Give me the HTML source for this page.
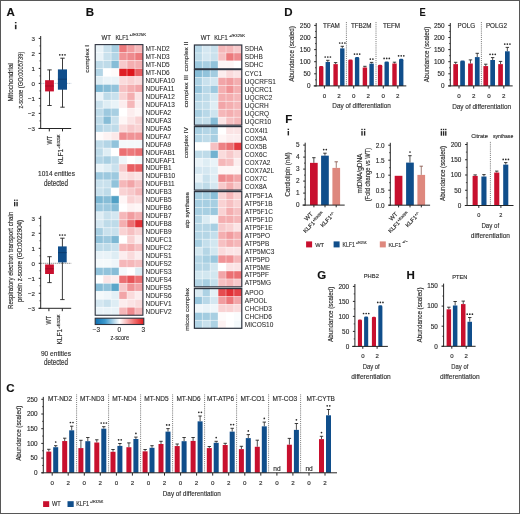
<!DOCTYPE html>
<html><head><meta charset="utf-8"><title>Figure</title><style>html,body{margin:0;padding:0;background:#fff;}body{width:520px;height:514px;overflow:hidden;font-family:"Liberation Sans", sans-serif;}svg{display:block;will-change:transform;} svg text{stroke:#2e2e2e;stroke-width:0.15px;} svg text.rl{stroke-width:0.08px;}</style></head><body>
<svg xmlns="http://www.w3.org/2000/svg" width="520" height="514" viewBox="0 0 520 514" font-family='"Liberation Sans", sans-serif'><rect x="0" y="0" width="520" height="514" fill="#ffffff"/>
<text x="6.6" y="16.4" font-size="11.5" font-weight="bold" fill="#111">A</text>
<rect x="14.9" y="22" width="1.6" height="1.3" fill="#262626"/>
<rect x="14.9" y="24.8" width="1.6" height="4.4" fill="#262626"/>
<line x1="40.7" y1="36" x2="40.7" y2="129" stroke="#262626" stroke-width="1"/>
<line x1="38.7" y1="38.4" x2="40.7" y2="38.4" stroke="#262626" stroke-width="1"/>
<text x="35" y="40.63" font-size="6.2" text-anchor="end" fill="#2e2e2e">3</text>
<line x1="38.7" y1="53.4" x2="40.7" y2="53.4" stroke="#262626" stroke-width="1"/>
<text x="35" y="55.63" font-size="6.2" text-anchor="end" fill="#2e2e2e">2</text>
<line x1="38.7" y1="68.4" x2="40.7" y2="68.4" stroke="#262626" stroke-width="1"/>
<text x="35" y="70.63" font-size="6.2" text-anchor="end" fill="#2e2e2e">1</text>
<line x1="38.7" y1="83.4" x2="40.7" y2="83.4" stroke="#262626" stroke-width="1"/>
<text x="35" y="85.63" font-size="6.2" text-anchor="end" fill="#2e2e2e">0</text>
<line x1="38.7" y1="98.4" x2="40.7" y2="98.4" stroke="#262626" stroke-width="1"/>
<text x="35" y="100.63" font-size="6.2" text-anchor="end" fill="#2e2e2e">−1</text>
<line x1="38.7" y1="113.4" x2="40.7" y2="113.4" stroke="#262626" stroke-width="1"/>
<text x="35" y="115.63" font-size="6.2" text-anchor="end" fill="#2e2e2e">−2</text>
<line x1="38.7" y1="128.4" x2="40.7" y2="128.4" stroke="#262626" stroke-width="1"/>
<text x="35" y="130.63" font-size="6.2" text-anchor="end" fill="#2e2e2e">−3</text>
<line x1="39.5" y1="120.9" x2="40.7" y2="120.9" stroke="#262626" stroke-width="0.8"/>
<line x1="39.5" y1="105.9" x2="40.7" y2="105.9" stroke="#262626" stroke-width="0.8"/>
<line x1="39.5" y1="90.9" x2="40.7" y2="90.9" stroke="#262626" stroke-width="0.8"/>
<line x1="39.5" y1="75.9" x2="40.7" y2="75.9" stroke="#262626" stroke-width="0.8"/>
<line x1="39.5" y1="60.9" x2="40.7" y2="60.9" stroke="#262626" stroke-width="0.8"/>
<line x1="39.5" y1="45.9" x2="40.7" y2="45.9" stroke="#262626" stroke-width="0.8"/>
<line x1="40.7" y1="83.4" x2="71.2" y2="83.4" stroke="#8aa0b8" stroke-width="0.8" stroke-dasharray="1 1"/>
<line x1="49.5" y1="69.9" x2="49.5" y2="105.5" stroke="#262626" stroke-width="0.9"/>
<line x1="47.3" y1="69.9" x2="51.7" y2="69.9" stroke="#262626" stroke-width="0.9"/>
<line x1="47.3" y1="105.5" x2="51.7" y2="105.5" stroke="#262626" stroke-width="0.9"/>
<rect x="45.1" y="80.2" width="8.8" height="11.2" fill="#c8102e"/>
<line x1="45.1" y1="86" x2="53.9" y2="86" stroke="#930a22" stroke-width="0.7"/>
<line x1="62.5" y1="58.2" x2="62.5" y2="107.2" stroke="#262626" stroke-width="0.9"/>
<line x1="60.3" y1="58.2" x2="64.7" y2="58.2" stroke="#262626" stroke-width="0.9"/>
<line x1="60.3" y1="107.2" x2="64.7" y2="107.2" stroke="#262626" stroke-width="0.9"/>
<rect x="57.9" y="69.4" width="9.1" height="20.3" fill="#104e8b"/>
<line x1="57.9" y1="79.2" x2="67" y2="79.2" stroke="#0b3766" stroke-width="0.7"/>
<circle cx="59.8" cy="54.8" r="0.85" fill="#2a2a2a"/>
<circle cx="62.4" cy="54.8" r="0.85" fill="#2a2a2a"/>
<circle cx="65" cy="54.8" r="0.85" fill="#2a2a2a"/>
<line x1="38.6" y1="128.5" x2="71.2" y2="128.5" stroke="#262626" stroke-width="1"/>
<line x1="49.3" y1="128.5" x2="49.3" y2="131.4" stroke="#262626" stroke-width="1"/>
<line x1="62.5" y1="128.5" x2="62.5" y2="131.4" stroke="#262626" stroke-width="1"/>
<text transform="translate(51.6 144.5) rotate(-90)" font-size="6.5" textLength="8.6" lengthAdjust="spacingAndGlyphs" fill="#2e2e2e">WT</text>
<text transform="translate(62.6 164.5) rotate(-90)" font-size="6.5" fill="#2e2e2e">KLF1<tspan font-size="3.77" dy="-2.3">+/E325K</tspan></text>
<text x="56.5" y="176" font-size="7.8" text-anchor="middle" textLength="36.9" lengthAdjust="spacingAndGlyphs" fill="#2e2e2e">1014 entities</text>
<text x="56" y="185.6" font-size="8.2" text-anchor="middle" textLength="24.2" lengthAdjust="spacingAndGlyphs" fill="#2e2e2e">detected</text>
<text transform="translate(12.9 101.5) rotate(-90)" font-size="7" textLength="38.5" lengthAdjust="spacingAndGlyphs" fill="#2e2e2e">Mitochondrial</text>
<text transform="translate(22.7 108.5) rotate(-90)" font-size="7" textLength="56.8" lengthAdjust="spacingAndGlyphs" fill="#2e2e2e">z-score (GO:0005739)</text>
<rect x="14" y="199.6" width="1.35" height="1.3" fill="#262626"/>
<rect x="14" y="201.9" width="1.35" height="4.4" fill="#262626"/>
<rect x="16.4" y="199.6" width="1.35" height="1.3" fill="#262626"/>
<rect x="16.4" y="201.9" width="1.35" height="4.4" fill="#262626"/>
<line x1="40.7" y1="215.9" x2="40.7" y2="308.8" stroke="#262626" stroke-width="1"/>
<line x1="38.7" y1="218.3" x2="40.7" y2="218.3" stroke="#262626" stroke-width="1"/>
<text x="35" y="220.53" font-size="6.2" text-anchor="end" fill="#2e2e2e">3</text>
<line x1="38.7" y1="233.3" x2="40.7" y2="233.3" stroke="#262626" stroke-width="1"/>
<text x="35" y="235.53" font-size="6.2" text-anchor="end" fill="#2e2e2e">2</text>
<line x1="38.7" y1="248.3" x2="40.7" y2="248.3" stroke="#262626" stroke-width="1"/>
<text x="35" y="250.53" font-size="6.2" text-anchor="end" fill="#2e2e2e">1</text>
<line x1="38.7" y1="263.3" x2="40.7" y2="263.3" stroke="#262626" stroke-width="1"/>
<text x="35" y="265.53" font-size="6.2" text-anchor="end" fill="#2e2e2e">0</text>
<line x1="38.7" y1="278.3" x2="40.7" y2="278.3" stroke="#262626" stroke-width="1"/>
<text x="35" y="280.53" font-size="6.2" text-anchor="end" fill="#2e2e2e">−1</text>
<line x1="38.7" y1="293.3" x2="40.7" y2="293.3" stroke="#262626" stroke-width="1"/>
<text x="35" y="295.53" font-size="6.2" text-anchor="end" fill="#2e2e2e">−2</text>
<line x1="38.7" y1="308.3" x2="40.7" y2="308.3" stroke="#262626" stroke-width="1"/>
<text x="35" y="310.53" font-size="6.2" text-anchor="end" fill="#2e2e2e">−3</text>
<line x1="39.5" y1="300.8" x2="40.7" y2="300.8" stroke="#262626" stroke-width="0.8"/>
<line x1="39.5" y1="285.8" x2="40.7" y2="285.8" stroke="#262626" stroke-width="0.8"/>
<line x1="39.5" y1="270.8" x2="40.7" y2="270.8" stroke="#262626" stroke-width="0.8"/>
<line x1="39.5" y1="255.8" x2="40.7" y2="255.8" stroke="#262626" stroke-width="0.8"/>
<line x1="39.5" y1="240.8" x2="40.7" y2="240.8" stroke="#262626" stroke-width="0.8"/>
<line x1="39.5" y1="225.8" x2="40.7" y2="225.8" stroke="#262626" stroke-width="0.8"/>
<line x1="40.7" y1="263.3" x2="71.2" y2="263.3" stroke="#444" stroke-width="0.8" stroke-dasharray="1 1"/>
<line x1="49.5" y1="256.7" x2="49.5" y2="282.6" stroke="#262626" stroke-width="0.9"/>
<line x1="47.3" y1="256.7" x2="51.7" y2="256.7" stroke="#262626" stroke-width="0.9"/>
<line x1="47.3" y1="282.6" x2="51.7" y2="282.6" stroke="#262626" stroke-width="0.9"/>
<rect x="45.1" y="264.5" width="8.8" height="9.5" fill="#c8102e"/>
<line x1="45.1" y1="268.8" x2="53.9" y2="268.8" stroke="#930a22" stroke-width="0.7"/>
<line x1="62.4" y1="238.2" x2="62.4" y2="299.6" stroke="#262626" stroke-width="0.9"/>
<line x1="60.2" y1="238.2" x2="64.6" y2="238.2" stroke="#262626" stroke-width="0.9"/>
<line x1="60.2" y1="299.6" x2="64.6" y2="299.6" stroke="#262626" stroke-width="0.9"/>
<rect x="58" y="246.4" width="8.7" height="16" fill="#104e8b"/>
<line x1="58" y1="252.6" x2="66.7" y2="252.6" stroke="#0b3766" stroke-width="0.7"/>
<circle cx="59.8" cy="235" r="0.85" fill="#2a2a2a"/>
<circle cx="62.4" cy="235" r="0.85" fill="#2a2a2a"/>
<circle cx="65" cy="235" r="0.85" fill="#2a2a2a"/>
<line x1="38.6" y1="308.3" x2="71.2" y2="308.3" stroke="#262626" stroke-width="1"/>
<line x1="48.9" y1="308.3" x2="48.9" y2="311.2" stroke="#262626" stroke-width="1"/>
<line x1="62.3" y1="308.3" x2="62.3" y2="311.2" stroke="#262626" stroke-width="1"/>
<text transform="translate(51.1 324.5) rotate(-90)" font-size="6.5" textLength="8.6" lengthAdjust="spacingAndGlyphs" fill="#2e2e2e">WT</text>
<text transform="translate(62.3 344.5) rotate(-90)" font-size="6.5" fill="#2e2e2e">KLF1<tspan font-size="3.77" dy="-2.3">+/E325K</tspan></text>
<text x="56" y="356.4" font-size="7.8" text-anchor="middle" textLength="30.1" lengthAdjust="spacingAndGlyphs" fill="#2e2e2e">90 entities</text>
<text x="56" y="365.3" font-size="8.2" text-anchor="middle" textLength="24.2" lengthAdjust="spacingAndGlyphs" fill="#2e2e2e">detected</text>
<text transform="translate(12.5 308.9) rotate(-90)" font-size="6.6" textLength="97.2" lengthAdjust="spacingAndGlyphs" fill="#2e2e2e">Respiratory electron transport chain</text>
<text transform="translate(22.4 301.9) rotate(-90)" font-size="6.6" textLength="82" lengthAdjust="spacingAndGlyphs" fill="#2e2e2e">protein z-score (GO:0022904)</text>
<text x="85.7" y="16.4" font-size="11.5" font-weight="bold" fill="#111">B</text>
<text x="101.6" y="40.2" font-size="6.6" textLength="9.4" lengthAdjust="spacingAndGlyphs" fill="#2e2e2e">WT</text>
<text x="115.4" y="40.2" font-size="6.6" fill="#2e2e2e" textLength="13.3" lengthAdjust="spacingAndGlyphs">KLF1</text>
<text x="129.5" y="36.4" font-size="4.1" fill="#2e2e2e" textLength="16.6" lengthAdjust="spacingAndGlyphs">+/E325K</text>
<text transform="translate(89 72.7) rotate(-90)" font-size="6.2" textLength="27.7" lengthAdjust="spacingAndGlyphs" fill="#2e2e2e">complex I</text>
<rect x="95.2" y="44.6" width="7.95" height="7.96" fill="rgb(233,243,248)"/>
<rect x="103.15" y="44.6" width="7.95" height="7.96" fill="rgb(201,225,237)"/>
<rect x="111.1" y="44.6" width="7.95" height="7.96" fill="rgb(168,207,226)"/>
<rect x="119.05" y="44.6" width="7.95" height="7.96" fill="rgb(236,121,124)"/>
<rect x="127" y="44.6" width="7.95" height="7.96" fill="rgb(241,156,159)"/>
<rect x="134.95" y="44.6" width="7.95" height="7.96" fill="rgb(245,183,185)"/>
<rect x="95.2" y="52.56" width="7.95" height="7.96" fill="rgb(233,243,248)"/>
<rect x="103.15" y="52.56" width="7.95" height="7.96" fill="rgb(201,225,237)"/>
<rect x="111.1" y="52.56" width="7.95" height="7.96" fill="rgb(179,213,230)"/>
<rect x="119.05" y="52.56" width="7.95" height="7.96" fill="rgb(240,147,150)"/>
<rect x="127" y="52.56" width="7.95" height="7.96" fill="rgb(238,138,142)"/>
<rect x="134.95" y="52.56" width="7.95" height="7.96" fill="rgb(236,121,124)"/>
<rect x="95.2" y="60.52" width="7.95" height="7.96" fill="rgb(190,219,233)"/>
<rect x="103.15" y="60.52" width="7.95" height="7.96" fill="rgb(190,219,233)"/>
<rect x="111.1" y="60.52" width="7.95" height="7.96" fill="rgb(135,189,215)"/>
<rect x="119.05" y="60.52" width="7.95" height="7.96" fill="rgb(247,201,203)"/>
<rect x="127" y="60.52" width="7.95" height="7.96" fill="rgb(244,174,176)"/>
<rect x="134.95" y="60.52" width="7.95" height="7.96" fill="rgb(244,174,176)"/>
<rect x="95.2" y="68.48" width="7.95" height="7.96" fill="rgb(179,213,230)"/>
<rect x="103.15" y="68.48" width="7.95" height="7.96" fill="rgb(255,255,255)"/>
<rect x="111.1" y="68.48" width="7.95" height="7.96" fill="rgb(254,251,251)"/>
<rect x="119.05" y="68.48" width="7.95" height="7.96" fill="rgb(223,31,37)"/>
<rect x="127" y="68.48" width="7.95" height="7.96" fill="rgb(222,22,28)"/>
<rect x="134.95" y="68.48" width="7.95" height="7.96" fill="rgb(232,94,98)"/>
<rect x="95.2" y="76.44" width="7.95" height="7.96" fill="rgb(222,237,244)"/>
<rect x="103.15" y="76.44" width="7.95" height="7.96" fill="rgb(233,243,248)"/>
<rect x="111.1" y="76.44" width="7.95" height="7.96" fill="rgb(233,243,248)"/>
<rect x="119.05" y="76.44" width="7.95" height="7.96" fill="rgb(250,219,220)"/>
<rect x="127" y="76.44" width="7.95" height="7.96" fill="rgb(249,210,211)"/>
<rect x="134.95" y="76.44" width="7.95" height="7.96" fill="rgb(250,219,220)"/>
<rect x="95.2" y="84.4" width="7.95" height="7.96" fill="rgb(125,184,212)"/>
<rect x="103.15" y="84.4" width="7.95" height="7.96" fill="rgb(135,189,215)"/>
<rect x="111.1" y="84.4" width="7.95" height="7.96" fill="rgb(146,195,219)"/>
<rect x="119.05" y="84.4" width="7.95" height="7.96" fill="rgb(246,192,194)"/>
<rect x="127" y="84.4" width="7.95" height="7.96" fill="rgb(244,174,176)"/>
<rect x="134.95" y="84.4" width="7.95" height="7.96" fill="rgb(242,165,168)"/>
<rect x="95.2" y="92.36" width="7.95" height="7.96" fill="rgb(233,243,248)"/>
<rect x="103.15" y="92.36" width="7.95" height="7.96" fill="rgb(190,219,233)"/>
<rect x="111.1" y="92.36" width="7.95" height="7.96" fill="rgb(201,225,237)"/>
<rect x="119.05" y="92.36" width="7.95" height="7.96" fill="rgb(249,210,211)"/>
<rect x="127" y="92.36" width="7.95" height="7.96" fill="rgb(244,174,176)"/>
<rect x="134.95" y="92.36" width="7.95" height="7.96" fill="rgb(251,228,229)"/>
<rect x="95.2" y="100.32" width="7.95" height="7.96" fill="rgb(201,225,237)"/>
<rect x="103.15" y="100.32" width="7.95" height="7.96" fill="rgb(222,237,244)"/>
<rect x="111.1" y="100.32" width="7.95" height="7.96" fill="rgb(233,243,248)"/>
<rect x="119.05" y="100.32" width="7.95" height="7.96" fill="rgb(252,237,238)"/>
<rect x="127" y="100.32" width="7.95" height="7.96" fill="rgb(245,183,185)"/>
<rect x="134.95" y="100.32" width="7.95" height="7.96" fill="rgb(252,237,238)"/>
<rect x="95.2" y="108.28" width="7.95" height="7.96" fill="rgb(190,219,233)"/>
<rect x="103.15" y="108.28" width="7.95" height="7.96" fill="rgb(157,201,223)"/>
<rect x="111.1" y="108.28" width="7.95" height="7.96" fill="rgb(168,207,226)"/>
<rect x="119.05" y="108.28" width="7.95" height="7.96" fill="rgb(255,255,255)"/>
<rect x="127" y="108.28" width="7.95" height="7.96" fill="rgb(252,237,238)"/>
<rect x="134.95" y="108.28" width="7.95" height="7.96" fill="rgb(254,246,246)"/>
<rect x="95.2" y="116.24" width="7.95" height="7.96" fill="rgb(190,219,233)"/>
<rect x="103.15" y="116.24" width="7.95" height="7.96" fill="rgb(135,189,215)"/>
<rect x="111.1" y="116.24" width="7.95" height="7.96" fill="rgb(201,225,237)"/>
<rect x="119.05" y="116.24" width="7.95" height="7.96" fill="rgb(254,246,246)"/>
<rect x="127" y="116.24" width="7.95" height="7.96" fill="rgb(251,228,229)"/>
<rect x="134.95" y="116.24" width="7.95" height="7.96" fill="rgb(249,210,211)"/>
<rect x="95.2" y="124.2" width="7.95" height="7.96" fill="rgb(179,213,230)"/>
<rect x="103.15" y="124.2" width="7.95" height="7.96" fill="rgb(190,219,233)"/>
<rect x="111.1" y="124.2" width="7.95" height="7.96" fill="rgb(190,219,233)"/>
<rect x="119.05" y="124.2" width="7.95" height="7.96" fill="rgb(250,219,220)"/>
<rect x="127" y="124.2" width="7.95" height="7.96" fill="rgb(247,201,203)"/>
<rect x="134.95" y="124.2" width="7.95" height="7.96" fill="rgb(249,210,211)"/>
<rect x="95.2" y="132.16" width="7.95" height="7.96" fill="rgb(254,251,251)"/>
<rect x="103.15" y="132.16" width="7.95" height="7.96" fill="rgb(253,242,242)"/>
<rect x="111.1" y="132.16" width="7.95" height="7.96" fill="rgb(252,233,233)"/>
<rect x="119.05" y="132.16" width="7.95" height="7.96" fill="rgb(238,138,142)"/>
<rect x="127" y="132.16" width="7.95" height="7.96" fill="rgb(240,147,150)"/>
<rect x="134.95" y="132.16" width="7.95" height="7.96" fill="rgb(240,147,150)"/>
<rect x="95.2" y="140.12" width="7.95" height="7.96" fill="rgb(190,219,233)"/>
<rect x="103.15" y="140.12" width="7.95" height="7.96" fill="rgb(179,213,230)"/>
<rect x="111.1" y="140.12" width="7.95" height="7.96" fill="rgb(146,195,219)"/>
<rect x="119.05" y="140.12" width="7.95" height="7.96" fill="rgb(244,249,251)"/>
<rect x="127" y="140.12" width="7.95" height="7.96" fill="rgb(244,249,251)"/>
<rect x="134.95" y="140.12" width="7.95" height="7.96" fill="rgb(244,249,251)"/>
<rect x="95.2" y="148.08" width="7.95" height="7.96" fill="rgb(190,219,233)"/>
<rect x="103.15" y="148.08" width="7.95" height="7.96" fill="rgb(222,237,244)"/>
<rect x="111.1" y="148.08" width="7.95" height="7.96" fill="rgb(255,255,255)"/>
<rect x="119.05" y="148.08" width="7.95" height="7.96" fill="rgb(235,112,115)"/>
<rect x="127" y="148.08" width="7.95" height="7.96" fill="rgb(236,121,124)"/>
<rect x="134.95" y="148.08" width="7.95" height="7.96" fill="rgb(235,112,115)"/>
<rect x="95.2" y="156.04" width="7.95" height="7.96" fill="rgb(179,213,230)"/>
<rect x="103.15" y="156.04" width="7.95" height="7.96" fill="rgb(168,207,226)"/>
<rect x="111.1" y="156.04" width="7.95" height="7.96" fill="rgb(190,219,233)"/>
<rect x="119.05" y="156.04" width="7.95" height="7.96" fill="rgb(239,246,250)"/>
<rect x="127" y="156.04" width="7.95" height="7.96" fill="rgb(255,255,255)"/>
<rect x="134.95" y="156.04" width="7.95" height="7.96" fill="rgb(244,249,251)"/>
<rect x="95.2" y="164" width="7.95" height="7.96" fill="rgb(233,243,248)"/>
<rect x="103.15" y="164" width="7.95" height="7.96" fill="rgb(222,237,244)"/>
<rect x="111.1" y="164" width="7.95" height="7.96" fill="rgb(201,225,237)"/>
<rect x="119.05" y="164" width="7.95" height="7.96" fill="rgb(247,201,203)"/>
<rect x="127" y="164" width="7.95" height="7.96" fill="rgb(232,94,98)"/>
<rect x="134.95" y="164" width="7.95" height="7.96" fill="rgb(232,94,98)"/>
<rect x="95.2" y="171.96" width="7.95" height="7.96" fill="rgb(157,201,223)"/>
<rect x="103.15" y="171.96" width="7.95" height="7.96" fill="rgb(157,201,223)"/>
<rect x="111.1" y="171.96" width="7.95" height="7.96" fill="rgb(157,201,223)"/>
<rect x="119.05" y="171.96" width="7.95" height="7.96" fill="rgb(251,228,229)"/>
<rect x="127" y="171.96" width="7.95" height="7.96" fill="rgb(250,219,220)"/>
<rect x="134.95" y="171.96" width="7.95" height="7.96" fill="rgb(251,228,229)"/>
<rect x="95.2" y="179.92" width="7.95" height="7.96" fill="rgb(201,225,237)"/>
<rect x="103.15" y="179.92" width="7.95" height="7.96" fill="rgb(201,225,237)"/>
<rect x="111.1" y="179.92" width="7.95" height="7.96" fill="rgb(146,195,219)"/>
<rect x="119.05" y="179.92" width="7.95" height="7.96" fill="rgb(245,183,185)"/>
<rect x="127" y="179.92" width="7.95" height="7.96" fill="rgb(242,165,168)"/>
<rect x="134.95" y="179.92" width="7.95" height="7.96" fill="rgb(246,192,194)"/>
<rect x="95.2" y="187.88" width="7.95" height="7.96" fill="rgb(201,225,237)"/>
<rect x="103.15" y="187.88" width="7.95" height="7.96" fill="rgb(190,219,233)"/>
<rect x="111.1" y="187.88" width="7.95" height="7.96" fill="rgb(255,255,255)"/>
<rect x="119.05" y="187.88" width="7.95" height="7.96" fill="rgb(249,210,211)"/>
<rect x="127" y="187.88" width="7.95" height="7.96" fill="rgb(247,201,203)"/>
<rect x="134.95" y="187.88" width="7.95" height="7.96" fill="rgb(245,183,185)"/>
<rect x="95.2" y="195.84" width="7.95" height="7.96" fill="rgb(125,184,212)"/>
<rect x="103.15" y="195.84" width="7.95" height="7.96" fill="rgb(135,189,215)"/>
<rect x="111.1" y="195.84" width="7.95" height="7.96" fill="rgb(81,160,197)"/>
<rect x="119.05" y="195.84" width="7.95" height="7.96" fill="rgb(254,246,246)"/>
<rect x="127" y="195.84" width="7.95" height="7.96" fill="rgb(249,210,211)"/>
<rect x="134.95" y="195.84" width="7.95" height="7.96" fill="rgb(250,219,220)"/>
<rect x="95.2" y="203.8" width="7.95" height="7.96" fill="rgb(157,201,223)"/>
<rect x="103.15" y="203.8" width="7.95" height="7.96" fill="rgb(157,201,223)"/>
<rect x="111.1" y="203.8" width="7.95" height="7.96" fill="rgb(135,189,215)"/>
<rect x="119.05" y="203.8" width="7.95" height="7.96" fill="rgb(255,255,255)"/>
<rect x="127" y="203.8" width="7.95" height="7.96" fill="rgb(253,242,242)"/>
<rect x="134.95" y="203.8" width="7.95" height="7.96" fill="rgb(254,246,246)"/>
<rect x="95.2" y="211.76" width="7.95" height="7.96" fill="rgb(222,237,244)"/>
<rect x="103.15" y="211.76" width="7.95" height="7.96" fill="rgb(201,225,237)"/>
<rect x="111.1" y="211.76" width="7.95" height="7.96" fill="rgb(212,231,241)"/>
<rect x="119.05" y="211.76" width="7.95" height="7.96" fill="rgb(245,183,185)"/>
<rect x="127" y="211.76" width="7.95" height="7.96" fill="rgb(241,156,159)"/>
<rect x="134.95" y="211.76" width="7.95" height="7.96" fill="rgb(244,174,176)"/>
<rect x="95.2" y="219.72" width="7.95" height="7.96" fill="rgb(212,231,241)"/>
<rect x="103.15" y="219.72" width="7.95" height="7.96" fill="rgb(190,219,233)"/>
<rect x="111.1" y="219.72" width="7.95" height="7.96" fill="rgb(190,219,233)"/>
<rect x="119.05" y="219.72" width="7.95" height="7.96" fill="rgb(244,174,176)"/>
<rect x="127" y="219.72" width="7.95" height="7.96" fill="rgb(235,112,115)"/>
<rect x="134.95" y="219.72" width="7.95" height="7.96" fill="rgb(226,49,54)"/>
<rect x="95.2" y="227.68" width="7.95" height="7.96" fill="rgb(168,207,226)"/>
<rect x="103.15" y="227.68" width="7.95" height="7.96" fill="rgb(201,225,237)"/>
<rect x="111.1" y="227.68" width="7.95" height="7.96" fill="rgb(201,225,237)"/>
<rect x="119.05" y="227.68" width="7.95" height="7.96" fill="rgb(249,210,211)"/>
<rect x="127" y="227.68" width="7.95" height="7.96" fill="rgb(246,192,194)"/>
<rect x="134.95" y="227.68" width="7.95" height="7.96" fill="rgb(249,210,211)"/>
<rect x="95.2" y="235.64" width="7.95" height="7.96" fill="rgb(146,195,219)"/>
<rect x="103.15" y="235.64" width="7.95" height="7.96" fill="rgb(157,201,223)"/>
<rect x="111.1" y="235.64" width="7.95" height="7.96" fill="rgb(125,184,212)"/>
<rect x="119.05" y="235.64" width="7.95" height="7.96" fill="rgb(255,255,255)"/>
<rect x="127" y="235.64" width="7.95" height="7.96" fill="rgb(249,210,211)"/>
<rect x="134.95" y="235.64" width="7.95" height="7.96" fill="rgb(252,237,238)"/>
<rect x="95.2" y="243.6" width="7.95" height="7.96" fill="rgb(190,219,233)"/>
<rect x="103.15" y="243.6" width="7.95" height="7.96" fill="rgb(190,219,233)"/>
<rect x="111.1" y="243.6" width="7.95" height="7.96" fill="rgb(201,225,237)"/>
<rect x="119.05" y="243.6" width="7.95" height="7.96" fill="rgb(245,183,185)"/>
<rect x="127" y="243.6" width="7.95" height="7.96" fill="rgb(244,174,176)"/>
<rect x="134.95" y="243.6" width="7.95" height="7.96" fill="rgb(246,192,194)"/>
<rect x="95.2" y="251.56" width="7.95" height="7.96" fill="rgb(233,243,248)"/>
<rect x="103.15" y="251.56" width="7.95" height="7.96" fill="rgb(233,243,248)"/>
<rect x="111.1" y="251.56" width="7.95" height="7.96" fill="rgb(222,237,244)"/>
<rect x="119.05" y="251.56" width="7.95" height="7.96" fill="rgb(252,237,238)"/>
<rect x="127" y="251.56" width="7.95" height="7.96" fill="rgb(250,219,220)"/>
<rect x="134.95" y="251.56" width="7.95" height="7.96" fill="rgb(252,237,238)"/>
<rect x="95.2" y="259.52" width="7.95" height="7.96" fill="rgb(244,249,251)"/>
<rect x="103.15" y="259.52" width="7.95" height="7.96" fill="rgb(244,249,251)"/>
<rect x="111.1" y="259.52" width="7.95" height="7.96" fill="rgb(239,246,250)"/>
<rect x="119.05" y="259.52" width="7.95" height="7.96" fill="rgb(245,183,185)"/>
<rect x="127" y="259.52" width="7.95" height="7.96" fill="rgb(245,183,185)"/>
<rect x="134.95" y="259.52" width="7.95" height="7.96" fill="rgb(246,192,194)"/>
<rect x="95.2" y="267.48" width="7.95" height="7.96" fill="rgb(146,195,219)"/>
<rect x="103.15" y="267.48" width="7.95" height="7.96" fill="rgb(146,195,219)"/>
<rect x="111.1" y="267.48" width="7.95" height="7.96" fill="rgb(135,189,215)"/>
<rect x="119.05" y="267.48" width="7.95" height="7.96" fill="rgb(244,249,251)"/>
<rect x="127" y="267.48" width="7.95" height="7.96" fill="rgb(255,255,255)"/>
<rect x="134.95" y="267.48" width="7.95" height="7.96" fill="rgb(222,237,244)"/>
<rect x="95.2" y="275.44" width="7.95" height="7.96" fill="rgb(255,255,255)"/>
<rect x="103.15" y="275.44" width="7.95" height="7.96" fill="rgb(251,228,229)"/>
<rect x="111.1" y="275.44" width="7.95" height="7.96" fill="rgb(252,237,238)"/>
<rect x="119.05" y="275.44" width="7.95" height="7.96" fill="rgb(235,112,115)"/>
<rect x="127" y="275.44" width="7.95" height="7.96" fill="rgb(231,85,89)"/>
<rect x="134.95" y="275.44" width="7.95" height="7.96" fill="rgb(235,112,115)"/>
<rect x="95.2" y="283.4" width="7.95" height="7.96" fill="rgb(135,189,215)"/>
<rect x="103.15" y="283.4" width="7.95" height="7.96" fill="rgb(146,195,219)"/>
<rect x="111.1" y="283.4" width="7.95" height="7.96" fill="rgb(92,166,201)"/>
<rect x="119.05" y="283.4" width="7.95" height="7.96" fill="rgb(247,201,203)"/>
<rect x="127" y="283.4" width="7.95" height="7.96" fill="rgb(240,147,150)"/>
<rect x="134.95" y="283.4" width="7.95" height="7.96" fill="rgb(242,165,168)"/>
<rect x="95.2" y="291.36" width="7.95" height="7.96" fill="rgb(244,249,251)"/>
<rect x="103.15" y="291.36" width="7.95" height="7.96" fill="rgb(239,246,250)"/>
<rect x="111.1" y="291.36" width="7.95" height="7.96" fill="rgb(228,240,246)"/>
<rect x="119.05" y="291.36" width="7.95" height="7.96" fill="rgb(242,165,168)"/>
<rect x="127" y="291.36" width="7.95" height="7.96" fill="rgb(250,219,220)"/>
<rect x="134.95" y="291.36" width="7.95" height="7.96" fill="rgb(252,237,238)"/>
<rect x="95.2" y="299.32" width="7.95" height="7.96" fill="rgb(212,231,241)"/>
<rect x="103.15" y="299.32" width="7.95" height="7.96" fill="rgb(201,225,237)"/>
<rect x="111.1" y="299.32" width="7.95" height="7.96" fill="rgb(222,237,244)"/>
<rect x="119.05" y="299.32" width="7.95" height="7.96" fill="rgb(252,237,238)"/>
<rect x="127" y="299.32" width="7.95" height="7.96" fill="rgb(251,228,229)"/>
<rect x="134.95" y="299.32" width="7.95" height="7.96" fill="rgb(250,219,220)"/>
<rect x="95.2" y="307.28" width="7.95" height="7.96" fill="rgb(233,243,248)"/>
<rect x="103.15" y="307.28" width="7.95" height="7.96" fill="rgb(233,243,248)"/>
<rect x="111.1" y="307.28" width="7.95" height="7.96" fill="rgb(233,243,248)"/>
<rect x="119.05" y="307.28" width="7.95" height="7.96" fill="rgb(245,183,185)"/>
<rect x="127" y="307.28" width="7.95" height="7.96" fill="rgb(238,138,142)"/>
<rect x="134.95" y="307.28" width="7.95" height="7.96" fill="rgb(245,183,185)"/>
<path d="M103.15 44.6V315.24M111.1 44.6V315.24M119.05 44.6V315.24M127 44.6V315.24M134.95 44.6V315.24M95.2 52.56H142.9M95.2 60.52H142.9M95.2 68.48H142.9M95.2 76.44H142.9M95.2 84.4H142.9M95.2 92.36H142.9M95.2 100.32H142.9M95.2 108.28H142.9M95.2 116.24H142.9M95.2 124.2H142.9M95.2 132.16H142.9M95.2 140.12H142.9M95.2 148.08H142.9M95.2 156.04H142.9M95.2 164H142.9M95.2 171.96H142.9M95.2 179.92H142.9M95.2 187.88H142.9M95.2 195.84H142.9M95.2 203.8H142.9M95.2 211.76H142.9M95.2 219.72H142.9M95.2 227.68H142.9M95.2 235.64H142.9M95.2 243.6H142.9M95.2 251.56H142.9M95.2 259.52H142.9M95.2 267.48H142.9M95.2 275.44H142.9M95.2 283.4H142.9M95.2 291.36H142.9M95.2 299.32H142.9M95.2 307.28H142.9" stroke="#ffffff" stroke-opacity="0.55" stroke-width="0.7" fill="none"/>
<rect x="95.2" y="44.6" width="47.7" height="270.64" fill="none" stroke="#2e3440" stroke-width="1.1"/>
<g transform="translate(145.5 0) scale(0.93 1)">
<text x="0" y="51.08" font-size="7" fill="#2e2e2e" class="rl">MT-ND2</text>
<text x="0" y="59.04" font-size="7" fill="#2e2e2e" class="rl">MT-ND3</text>
<text x="0" y="67" font-size="7" fill="#2e2e2e" class="rl">MT-ND5</text>
<text x="0" y="74.96" font-size="7" fill="#2e2e2e" class="rl">MT-ND6</text>
<text x="0" y="82.92" font-size="7" fill="#2e2e2e" class="rl">NDUFA10</text>
<text x="0" y="90.88" font-size="7" fill="#2e2e2e" class="rl">NDUFA11</text>
<text x="0" y="98.84" font-size="7" fill="#2e2e2e" class="rl">NDUFA12</text>
<text x="0" y="106.8" font-size="7" fill="#2e2e2e" class="rl">NDUFA13</text>
<text x="0" y="114.76" font-size="7" fill="#2e2e2e" class="rl">NDUFA2</text>
<text x="0" y="122.72" font-size="7" fill="#2e2e2e" class="rl">NDUFA3</text>
<text x="0" y="130.68" font-size="7" fill="#2e2e2e" class="rl">NDUFA5</text>
<text x="0" y="138.64" font-size="7" fill="#2e2e2e" class="rl">NDUFA7</text>
<text x="0" y="146.6" font-size="7" fill="#2e2e2e" class="rl">NDUFA9</text>
<text x="0" y="154.56" font-size="7" fill="#2e2e2e" class="rl">NDUFAB1</text>
<text x="0" y="162.52" font-size="7" fill="#2e2e2e" class="rl">NDUFAF1</text>
<text x="0" y="170.48" font-size="7" fill="#2e2e2e" class="rl">NDUFB1</text>
<text x="0" y="178.44" font-size="7" fill="#2e2e2e" class="rl">NDUFB10</text>
<text x="0" y="186.4" font-size="7" fill="#2e2e2e" class="rl">NDUFB11</text>
<text x="0" y="194.36" font-size="7" fill="#2e2e2e" class="rl">NDUFB3</text>
<text x="0" y="202.32" font-size="7" fill="#2e2e2e" class="rl">NDUFB5</text>
<text x="0" y="210.28" font-size="7" fill="#2e2e2e" class="rl">NDUFB6</text>
<text x="0" y="218.24" font-size="7" fill="#2e2e2e" class="rl">NDUFB7</text>
<text x="0" y="226.2" font-size="7" fill="#2e2e2e" class="rl">NDUFB8</text>
<text x="0" y="234.16" font-size="7" fill="#2e2e2e" class="rl">NDUFB9</text>
<text x="0" y="242.12" font-size="7" fill="#2e2e2e" class="rl">NDUFC1</text>
<text x="0" y="250.08" font-size="7" fill="#2e2e2e" class="rl">NDUFC2</text>
<text x="0" y="258.04" font-size="7" fill="#2e2e2e" class="rl">NDUFS1</text>
<text x="0" y="266" font-size="7" fill="#2e2e2e" class="rl">NDUFS2</text>
<text x="0" y="273.96" font-size="7" fill="#2e2e2e" class="rl">NDUFS3</text>
<text x="0" y="281.92" font-size="7" fill="#2e2e2e" class="rl">NDUFS4</text>
<text x="0" y="289.88" font-size="7" fill="#2e2e2e" class="rl">NDUFS5</text>
<text x="0" y="297.84" font-size="7" fill="#2e2e2e" class="rl">NDUFS6</text>
<text x="0" y="305.8" font-size="7" fill="#2e2e2e" class="rl">NDUFV1</text>
<text x="0" y="313.76" font-size="7" fill="#2e2e2e" class="rl">NDUFV2</text>
</g>
<defs><linearGradient id="cb" x1="0" x2="1" y1="0" y2="0"><stop offset="0" stop-color="#0f6fb2"/><stop offset="0.2" stop-color="#3b98cc"/><stop offset="0.5" stop-color="#ffffff"/><stop offset="0.8" stop-color="#f07070"/><stop offset="1" stop-color="#e01a1c"/></linearGradient></defs>
<rect x="95.2" y="318.2" width="48.6" height="6.3" fill="url(#cb)" stroke="#2e3440" stroke-width="1.1"/>
<text x="96.4" y="331.9" font-size="6.4" text-anchor="middle" fill="#2e2e2e">−3</text>
<text x="119.4" y="331.9" font-size="6.4" text-anchor="middle" fill="#2e2e2e">0</text>
<text x="143.3" y="331.9" font-size="6.4" text-anchor="middle" fill="#2e2e2e">3</text>
<text x="119.8" y="340" font-size="6.6" text-anchor="middle" textLength="18.5" lengthAdjust="spacingAndGlyphs" fill="#2e2e2e">z-score</text>
<text x="200.8" y="40.4" font-size="6.6" textLength="9.4" lengthAdjust="spacingAndGlyphs" fill="#2e2e2e">WT</text>
<text x="214.2" y="40.4" font-size="6.6" fill="#2e2e2e" textLength="13.5" lengthAdjust="spacingAndGlyphs">KLF1</text>
<text x="228.9" y="36.5" font-size="4.1" fill="#2e2e2e" textLength="16.2" lengthAdjust="spacingAndGlyphs">+/E325K</text>
<rect x="194.4" y="45" width="7.9" height="7.94" fill="rgb(184,216,232)"/>
<rect x="202.3" y="45" width="7.9" height="7.94" fill="rgb(212,231,241)"/>
<rect x="210.2" y="45" width="7.9" height="7.94" fill="rgb(201,225,237)"/>
<rect x="218.1" y="45" width="7.9" height="7.94" fill="rgb(245,183,185)"/>
<rect x="226" y="45" width="7.9" height="7.94" fill="rgb(245,183,185)"/>
<rect x="233.9" y="45" width="7.9" height="7.94" fill="rgb(247,201,203)"/>
<rect x="194.4" y="52.94" width="7.9" height="7.94" fill="rgb(190,219,233)"/>
<rect x="202.3" y="52.94" width="7.9" height="7.94" fill="rgb(212,231,241)"/>
<rect x="210.2" y="52.94" width="7.9" height="7.94" fill="rgb(201,225,237)"/>
<rect x="218.1" y="52.94" width="7.9" height="7.94" fill="rgb(246,192,194)"/>
<rect x="226" y="52.94" width="7.9" height="7.94" fill="rgb(236,121,124)"/>
<rect x="233.9" y="52.94" width="7.9" height="7.94" fill="rgb(238,138,142)"/>
<rect x="194.4" y="60.88" width="7.9" height="7.94" fill="rgb(157,201,223)"/>
<rect x="202.3" y="60.88" width="7.9" height="7.94" fill="rgb(168,207,226)"/>
<rect x="210.2" y="60.88" width="7.9" height="7.94" fill="rgb(146,195,219)"/>
<rect x="218.1" y="60.88" width="7.9" height="7.94" fill="rgb(254,246,246)"/>
<rect x="226" y="60.88" width="7.9" height="7.94" fill="rgb(254,246,246)"/>
<rect x="233.9" y="60.88" width="7.9" height="7.94" fill="rgb(255,255,255)"/>
<path d="M202.3 45V68.82M210.2 45V68.82M218.1 45V68.82M226 45V68.82M233.9 45V68.82M194.4 52.94H241.8M194.4 60.88H241.8" stroke="#ffffff" stroke-opacity="0.55" stroke-width="0.7" fill="none"/>
<rect x="194.4" y="45" width="47.4" height="23.82" fill="none" stroke="#2e3440" stroke-width="1.2"/>
<g transform="translate(244.8 0) scale(0.93 1)">
<text x="0" y="51.47" font-size="7" fill="#2e2e2e" class="rl">SDHA</text>
<text x="0" y="59.41" font-size="7" fill="#2e2e2e" class="rl">SDHB</text>
<text x="0" y="67.35" font-size="7" fill="#2e2e2e" class="rl">SDHC</text>
</g>
<text transform="translate(188.4 71.5) rotate(-90)" font-size="6.2" textLength="29.75" lengthAdjust="spacingAndGlyphs" fill="#2e2e2e">complex II</text>
<rect x="194.4" y="69.6" width="7.9" height="7.94" fill="rgb(135,189,215)"/>
<rect x="202.3" y="69.6" width="7.9" height="7.94" fill="rgb(146,195,219)"/>
<rect x="210.2" y="69.6" width="7.9" height="7.94" fill="rgb(163,204,224)"/>
<rect x="218.1" y="69.6" width="7.9" height="7.94" fill="rgb(252,237,238)"/>
<rect x="226" y="69.6" width="7.9" height="7.94" fill="rgb(250,219,220)"/>
<rect x="233.9" y="69.6" width="7.9" height="7.94" fill="rgb(251,228,229)"/>
<rect x="194.4" y="77.54" width="7.9" height="7.94" fill="rgb(173,210,228)"/>
<rect x="202.3" y="77.54" width="7.9" height="7.94" fill="rgb(201,225,237)"/>
<rect x="210.2" y="77.54" width="7.9" height="7.94" fill="rgb(212,231,241)"/>
<rect x="218.1" y="77.54" width="7.9" height="7.94" fill="rgb(242,165,168)"/>
<rect x="226" y="77.54" width="7.9" height="7.94" fill="rgb(241,156,159)"/>
<rect x="233.9" y="77.54" width="7.9" height="7.94" fill="rgb(244,174,176)"/>
<rect x="194.4" y="85.48" width="7.9" height="7.94" fill="rgb(152,198,221)"/>
<rect x="202.3" y="85.48" width="7.9" height="7.94" fill="rgb(184,216,232)"/>
<rect x="210.2" y="85.48" width="7.9" height="7.94" fill="rgb(157,201,223)"/>
<rect x="218.1" y="85.48" width="7.9" height="7.94" fill="rgb(244,174,176)"/>
<rect x="226" y="85.48" width="7.9" height="7.94" fill="rgb(240,147,150)"/>
<rect x="233.9" y="85.48" width="7.9" height="7.94" fill="rgb(244,174,176)"/>
<rect x="194.4" y="93.42" width="7.9" height="7.94" fill="rgb(179,213,230)"/>
<rect x="202.3" y="93.42" width="7.9" height="7.94" fill="rgb(190,219,233)"/>
<rect x="210.2" y="93.42" width="7.9" height="7.94" fill="rgb(212,231,241)"/>
<rect x="218.1" y="93.42" width="7.9" height="7.94" fill="rgb(244,174,176)"/>
<rect x="226" y="93.42" width="7.9" height="7.94" fill="rgb(244,174,176)"/>
<rect x="233.9" y="93.42" width="7.9" height="7.94" fill="rgb(245,183,185)"/>
<rect x="194.4" y="101.36" width="7.9" height="7.94" fill="rgb(190,219,233)"/>
<rect x="202.3" y="101.36" width="7.9" height="7.94" fill="rgb(195,222,235)"/>
<rect x="210.2" y="101.36" width="7.9" height="7.94" fill="rgb(222,237,244)"/>
<rect x="218.1" y="101.36" width="7.9" height="7.94" fill="rgb(242,165,168)"/>
<rect x="226" y="101.36" width="7.9" height="7.94" fill="rgb(244,174,176)"/>
<rect x="233.9" y="101.36" width="7.9" height="7.94" fill="rgb(245,183,185)"/>
<rect x="194.4" y="109.3" width="7.9" height="7.94" fill="rgb(168,207,226)"/>
<rect x="202.3" y="109.3" width="7.9" height="7.94" fill="rgb(184,216,232)"/>
<rect x="210.2" y="109.3" width="7.9" height="7.94" fill="rgb(206,228,239)"/>
<rect x="218.1" y="109.3" width="7.9" height="7.94" fill="rgb(245,183,185)"/>
<rect x="226" y="109.3" width="7.9" height="7.94" fill="rgb(244,174,176)"/>
<rect x="233.9" y="109.3" width="7.9" height="7.94" fill="rgb(245,183,185)"/>
<rect x="194.4" y="117.24" width="7.9" height="7.94" fill="rgb(190,219,233)"/>
<rect x="202.3" y="117.24" width="7.9" height="7.94" fill="rgb(195,222,235)"/>
<rect x="210.2" y="117.24" width="7.9" height="7.94" fill="rgb(135,189,215)"/>
<rect x="218.1" y="117.24" width="7.9" height="7.94" fill="rgb(251,228,229)"/>
<rect x="226" y="117.24" width="7.9" height="7.94" fill="rgb(246,192,194)"/>
<rect x="233.9" y="117.24" width="7.9" height="7.94" fill="rgb(245,183,185)"/>
<path d="M202.3 69.6V125.18M210.2 69.6V125.18M218.1 69.6V125.18M226 69.6V125.18M233.9 69.6V125.18M194.4 77.54H241.8M194.4 85.48H241.8M194.4 93.42H241.8M194.4 101.36H241.8M194.4 109.3H241.8M194.4 117.24H241.8" stroke="#ffffff" stroke-opacity="0.55" stroke-width="0.7" fill="none"/>
<rect x="194.4" y="69.6" width="47.4" height="55.58" fill="none" stroke="#2e3440" stroke-width="1.2"/>
<g transform="translate(244.8 0) scale(0.93 1)">
<text x="0" y="76.07" font-size="7" fill="#2e2e2e" class="rl">CYC1</text>
<text x="0" y="84.01" font-size="7" fill="#2e2e2e" class="rl">UQCRFS1</text>
<text x="0" y="91.95" font-size="7" fill="#2e2e2e" class="rl">UQCRC1</text>
<text x="0" y="99.89" font-size="7" fill="#2e2e2e" class="rl">UQCRC2</text>
<text x="0" y="107.83" font-size="7" fill="#2e2e2e" class="rl">UQCRH</text>
<text x="0" y="115.77" font-size="7" fill="#2e2e2e" class="rl">UQCRQ</text>
<text x="0" y="123.71" font-size="7" fill="#2e2e2e" class="rl">UQCR10</text>
</g>
<text transform="translate(188.4 107.5) rotate(-90)" font-size="6.2" textLength="32.5" lengthAdjust="spacingAndGlyphs" fill="#2e2e2e">complex III</text>
<rect x="194.4" y="126.6" width="7.9" height="7.94" fill="rgb(168,207,226)"/>
<rect x="202.3" y="126.6" width="7.9" height="7.94" fill="rgb(179,213,230)"/>
<rect x="210.2" y="126.6" width="7.9" height="7.94" fill="rgb(168,207,226)"/>
<rect x="218.1" y="126.6" width="7.9" height="7.94" fill="rgb(255,255,255)"/>
<rect x="226" y="126.6" width="7.9" height="7.94" fill="rgb(251,228,229)"/>
<rect x="233.9" y="126.6" width="7.9" height="7.94" fill="rgb(251,228,229)"/>
<rect x="194.4" y="134.54" width="7.9" height="7.94" fill="rgb(179,213,230)"/>
<rect x="202.3" y="134.54" width="7.9" height="7.94" fill="rgb(190,219,233)"/>
<rect x="210.2" y="134.54" width="7.9" height="7.94" fill="rgb(168,207,226)"/>
<rect x="218.1" y="134.54" width="7.9" height="7.94" fill="rgb(254,246,246)"/>
<rect x="226" y="134.54" width="7.9" height="7.94" fill="rgb(252,237,238)"/>
<rect x="233.9" y="134.54" width="7.9" height="7.94" fill="rgb(252,237,238)"/>
<rect x="194.4" y="142.48" width="7.9" height="7.94" fill="rgb(255,255,255)"/>
<rect x="202.3" y="142.48" width="7.9" height="7.94" fill="rgb(255,255,255)"/>
<rect x="210.2" y="142.48" width="7.9" height="7.94" fill="rgb(246,192,194)"/>
<rect x="218.1" y="142.48" width="7.9" height="7.94" fill="rgb(237,130,133)"/>
<rect x="226" y="142.48" width="7.9" height="7.94" fill="rgb(235,112,115)"/>
<rect x="233.9" y="142.48" width="7.9" height="7.94" fill="rgb(227,58,63)"/>
<rect x="194.4" y="150.42" width="7.9" height="7.94" fill="rgb(190,219,233)"/>
<rect x="202.3" y="150.42" width="7.9" height="7.94" fill="rgb(190,219,233)"/>
<rect x="210.2" y="150.42" width="7.9" height="7.94" fill="rgb(114,178,208)"/>
<rect x="218.1" y="150.42" width="7.9" height="7.94" fill="rgb(250,219,220)"/>
<rect x="226" y="150.42" width="7.9" height="7.94" fill="rgb(247,201,203)"/>
<rect x="233.9" y="150.42" width="7.9" height="7.94" fill="rgb(250,219,220)"/>
<rect x="194.4" y="158.36" width="7.9" height="7.94" fill="rgb(233,243,248)"/>
<rect x="202.3" y="158.36" width="7.9" height="7.94" fill="rgb(222,237,244)"/>
<rect x="210.2" y="158.36" width="7.9" height="7.94" fill="rgb(233,243,248)"/>
<rect x="218.1" y="158.36" width="7.9" height="7.94" fill="rgb(245,183,185)"/>
<rect x="226" y="158.36" width="7.9" height="7.94" fill="rgb(246,192,194)"/>
<rect x="233.9" y="158.36" width="7.9" height="7.94" fill="rgb(252,237,238)"/>
<rect x="194.4" y="166.3" width="7.9" height="7.94" fill="rgb(212,231,241)"/>
<rect x="202.3" y="166.3" width="7.9" height="7.94" fill="rgb(212,231,241)"/>
<rect x="210.2" y="166.3" width="7.9" height="7.94" fill="rgb(222,237,244)"/>
<rect x="218.1" y="166.3" width="7.9" height="7.94" fill="rgb(254,246,246)"/>
<rect x="226" y="166.3" width="7.9" height="7.94" fill="rgb(254,246,246)"/>
<rect x="233.9" y="166.3" width="7.9" height="7.94" fill="rgb(254,246,246)"/>
<rect x="194.4" y="174.24" width="7.9" height="7.94" fill="rgb(233,243,248)"/>
<rect x="202.3" y="174.24" width="7.9" height="7.94" fill="rgb(201,225,237)"/>
<rect x="210.2" y="174.24" width="7.9" height="7.94" fill="rgb(222,237,244)"/>
<rect x="218.1" y="174.24" width="7.9" height="7.94" fill="rgb(238,138,142)"/>
<rect x="226" y="174.24" width="7.9" height="7.94" fill="rgb(240,147,150)"/>
<rect x="233.9" y="174.24" width="7.9" height="7.94" fill="rgb(242,165,168)"/>
<rect x="194.4" y="182.18" width="7.9" height="7.94" fill="rgb(201,225,237)"/>
<rect x="202.3" y="182.18" width="7.9" height="7.94" fill="rgb(190,219,233)"/>
<rect x="210.2" y="182.18" width="7.9" height="7.94" fill="rgb(212,231,241)"/>
<rect x="218.1" y="182.18" width="7.9" height="7.94" fill="rgb(247,201,203)"/>
<rect x="226" y="182.18" width="7.9" height="7.94" fill="rgb(244,174,176)"/>
<rect x="233.9" y="182.18" width="7.9" height="7.94" fill="rgb(247,201,203)"/>
<path d="M202.3 126.6V190.12M210.2 126.6V190.12M218.1 126.6V190.12M226 126.6V190.12M233.9 126.6V190.12M194.4 134.54H241.8M194.4 142.48H241.8M194.4 150.42H241.8M194.4 158.36H241.8M194.4 166.3H241.8M194.4 174.24H241.8M194.4 182.18H241.8" stroke="#ffffff" stroke-opacity="0.55" stroke-width="0.7" fill="none"/>
<rect x="194.4" y="126.6" width="47.4" height="63.52" fill="none" stroke="#2e3440" stroke-width="1.2"/>
<g transform="translate(244.8 0) scale(0.93 1)">
<text x="0" y="133.07" font-size="7" fill="#2e2e2e" class="rl">COX4I1</text>
<text x="0" y="141.01" font-size="7" fill="#2e2e2e" class="rl">COX5A</text>
<text x="0" y="148.95" font-size="7" fill="#2e2e2e" class="rl">COX5B</text>
<text x="0" y="156.89" font-size="7" fill="#2e2e2e" class="rl">COX6C</text>
<text x="0" y="164.83" font-size="7" fill="#2e2e2e" class="rl">COX7A2</text>
<text x="0" y="172.77" font-size="7" fill="#2e2e2e" class="rl">COX7A2L</text>
<text x="0" y="180.71" font-size="7" fill="#2e2e2e" class="rl">COX7C</text>
<text x="0" y="188.65" font-size="7" fill="#2e2e2e" class="rl">COX8A</text>
</g>
<text transform="translate(188.4 158.3) rotate(-90)" font-size="6.2" textLength="30.9" lengthAdjust="spacingAndGlyphs" fill="#2e2e2e">complex IV</text>
<rect x="194.4" y="191.6" width="7.9" height="7.94" fill="rgb(167,207,226)"/>
<rect x="202.3" y="191.6" width="7.9" height="7.94" fill="rgb(167,207,226)"/>
<rect x="210.2" y="191.6" width="7.9" height="7.94" fill="rgb(138,191,216)"/>
<rect x="218.1" y="191.6" width="7.9" height="7.94" fill="rgb(249,210,211)"/>
<rect x="226" y="191.6" width="7.9" height="7.94" fill="rgb(245,183,185)"/>
<rect x="233.9" y="191.6" width="7.9" height="7.94" fill="rgb(249,210,211)"/>
<rect x="194.4" y="199.54" width="7.9" height="7.94" fill="rgb(167,207,226)"/>
<rect x="202.3" y="199.54" width="7.9" height="7.94" fill="rgb(167,207,226)"/>
<rect x="210.2" y="199.54" width="7.9" height="7.94" fill="rgb(167,207,226)"/>
<rect x="218.1" y="199.54" width="7.9" height="7.94" fill="rgb(249,210,211)"/>
<rect x="226" y="199.54" width="7.9" height="7.94" fill="rgb(246,192,194)"/>
<rect x="233.9" y="199.54" width="7.9" height="7.94" fill="rgb(249,210,211)"/>
<rect x="194.4" y="207.48" width="7.9" height="7.94" fill="rgb(167,207,226)"/>
<rect x="202.3" y="207.48" width="7.9" height="7.94" fill="rgb(167,207,226)"/>
<rect x="210.2" y="207.48" width="7.9" height="7.94" fill="rgb(153,199,221)"/>
<rect x="218.1" y="207.48" width="7.9" height="7.94" fill="rgb(249,210,211)"/>
<rect x="226" y="207.48" width="7.9" height="7.94" fill="rgb(244,174,176)"/>
<rect x="233.9" y="207.48" width="7.9" height="7.94" fill="rgb(246,192,194)"/>
<rect x="194.4" y="215.42" width="7.9" height="7.94" fill="rgb(181,214,230)"/>
<rect x="202.3" y="215.42" width="7.9" height="7.94" fill="rgb(218,235,243)"/>
<rect x="210.2" y="215.42" width="7.9" height="7.94" fill="rgb(240,247,250)"/>
<rect x="218.1" y="215.42" width="7.9" height="7.94" fill="rgb(244,174,176)"/>
<rect x="226" y="215.42" width="7.9" height="7.94" fill="rgb(244,174,176)"/>
<rect x="233.9" y="215.42" width="7.9" height="7.94" fill="rgb(245,183,185)"/>
<rect x="194.4" y="223.36" width="7.9" height="7.94" fill="rgb(181,214,230)"/>
<rect x="202.3" y="223.36" width="7.9" height="7.94" fill="rgb(181,214,230)"/>
<rect x="210.2" y="223.36" width="7.9" height="7.94" fill="rgb(167,207,226)"/>
<rect x="218.1" y="223.36" width="7.9" height="7.94" fill="rgb(247,201,203)"/>
<rect x="226" y="223.36" width="7.9" height="7.94" fill="rgb(249,210,211)"/>
<rect x="233.9" y="223.36" width="7.9" height="7.94" fill="rgb(251,228,229)"/>
<rect x="194.4" y="231.3" width="7.9" height="7.94" fill="rgb(181,214,230)"/>
<rect x="202.3" y="231.3" width="7.9" height="7.94" fill="rgb(181,214,230)"/>
<rect x="210.2" y="231.3" width="7.9" height="7.94" fill="rgb(196,223,236)"/>
<rect x="218.1" y="231.3" width="7.9" height="7.94" fill="rgb(244,174,176)"/>
<rect x="226" y="231.3" width="7.9" height="7.94" fill="rgb(241,156,159)"/>
<rect x="233.9" y="231.3" width="7.9" height="7.94" fill="rgb(244,174,176)"/>
<rect x="194.4" y="239.24" width="7.9" height="7.94" fill="rgb(167,207,226)"/>
<rect x="202.3" y="239.24" width="7.9" height="7.94" fill="rgb(196,223,236)"/>
<rect x="210.2" y="239.24" width="7.9" height="7.94" fill="rgb(210,231,240)"/>
<rect x="218.1" y="239.24" width="7.9" height="7.94" fill="rgb(246,192,194)"/>
<rect x="226" y="239.24" width="7.9" height="7.94" fill="rgb(244,174,176)"/>
<rect x="233.9" y="239.24" width="7.9" height="7.94" fill="rgb(245,183,185)"/>
<rect x="194.4" y="247.18" width="7.9" height="7.94" fill="rgb(210,231,240)"/>
<rect x="202.3" y="247.18" width="7.9" height="7.94" fill="rgb(181,214,230)"/>
<rect x="210.2" y="247.18" width="7.9" height="7.94" fill="rgb(210,231,240)"/>
<rect x="218.1" y="247.18" width="7.9" height="7.94" fill="rgb(250,219,220)"/>
<rect x="226" y="247.18" width="7.9" height="7.94" fill="rgb(251,228,229)"/>
<rect x="233.9" y="247.18" width="7.9" height="7.94" fill="rgb(251,228,229)"/>
<rect x="194.4" y="255.12" width="7.9" height="7.94" fill="rgb(181,214,230)"/>
<rect x="202.3" y="255.12" width="7.9" height="7.94" fill="rgb(167,207,226)"/>
<rect x="210.2" y="255.12" width="7.9" height="7.94" fill="rgb(153,199,221)"/>
<rect x="218.1" y="255.12" width="7.9" height="7.94" fill="rgb(240,147,150)"/>
<rect x="226" y="255.12" width="7.9" height="7.94" fill="rgb(240,147,150)"/>
<rect x="233.9" y="255.12" width="7.9" height="7.94" fill="rgb(245,183,185)"/>
<rect x="194.4" y="263.06" width="7.9" height="7.94" fill="rgb(181,214,230)"/>
<rect x="202.3" y="263.06" width="7.9" height="7.94" fill="rgb(181,214,230)"/>
<rect x="210.2" y="263.06" width="7.9" height="7.94" fill="rgb(210,231,240)"/>
<rect x="218.1" y="263.06" width="7.9" height="7.94" fill="rgb(255,255,255)"/>
<rect x="226" y="263.06" width="7.9" height="7.94" fill="rgb(251,228,229)"/>
<rect x="233.9" y="263.06" width="7.9" height="7.94" fill="rgb(251,228,229)"/>
<rect x="194.4" y="271" width="7.9" height="7.94" fill="rgb(210,231,240)"/>
<rect x="202.3" y="271" width="7.9" height="7.94" fill="rgb(210,231,240)"/>
<rect x="210.2" y="271" width="7.9" height="7.94" fill="rgb(210,231,240)"/>
<rect x="218.1" y="271" width="7.9" height="7.94" fill="rgb(242,165,168)"/>
<rect x="226" y="271" width="7.9" height="7.94" fill="rgb(235,112,115)"/>
<rect x="233.9" y="271" width="7.9" height="7.94" fill="rgb(235,112,115)"/>
<rect x="194.4" y="278.94" width="7.9" height="7.94" fill="rgb(181,214,230)"/>
<rect x="202.3" y="278.94" width="7.9" height="7.94" fill="rgb(167,207,226)"/>
<rect x="210.2" y="278.94" width="7.9" height="7.94" fill="rgb(196,223,236)"/>
<rect x="218.1" y="278.94" width="7.9" height="7.94" fill="rgb(246,192,194)"/>
<rect x="226" y="278.94" width="7.9" height="7.94" fill="rgb(245,183,185)"/>
<rect x="233.9" y="278.94" width="7.9" height="7.94" fill="rgb(247,201,203)"/>
<path d="M202.3 191.6V286.88M210.2 191.6V286.88M218.1 191.6V286.88M226 191.6V286.88M233.9 191.6V286.88M194.4 199.54H241.8M194.4 207.48H241.8M194.4 215.42H241.8M194.4 223.36H241.8M194.4 231.3H241.8M194.4 239.24H241.8M194.4 247.18H241.8M194.4 255.12H241.8M194.4 263.06H241.8M194.4 271H241.8M194.4 278.94H241.8" stroke="#ffffff" stroke-opacity="0.55" stroke-width="0.7" fill="none"/>
<rect x="194.4" y="191.6" width="47.4" height="95.28" fill="none" stroke="#2e3440" stroke-width="1.2"/>
<g transform="translate(244.8 0) scale(0.93 1)">
<text x="0" y="198.07" font-size="7" fill="#2e2e2e" class="rl">ATP5F1A</text>
<text x="0" y="206.01" font-size="7" fill="#2e2e2e" class="rl">ATP5F1B</text>
<text x="0" y="213.95" font-size="7" fill="#2e2e2e" class="rl">ATP5F1C</text>
<text x="0" y="221.89" font-size="7" fill="#2e2e2e" class="rl">ATP5F1D</text>
<text x="0" y="229.83" font-size="7" fill="#2e2e2e" class="rl">ATP5F1E</text>
<text x="0" y="237.77" font-size="7" fill="#2e2e2e" class="rl">ATP5PO</text>
<text x="0" y="245.71" font-size="7" fill="#2e2e2e" class="rl">ATP5PB</text>
<text x="0" y="253.65" font-size="7" fill="#2e2e2e" class="rl">ATP5MC3</text>
<text x="0" y="261.59" font-size="7" fill="#2e2e2e" class="rl">ATP5PD</text>
<text x="0" y="269.53" font-size="7" fill="#2e2e2e" class="rl">ATP5ME</text>
<text x="0" y="277.47" font-size="7" fill="#2e2e2e" class="rl">ATP5PF</text>
<text x="0" y="285.41" font-size="7" fill="#2e2e2e" class="rl">ATP5MG</text>
</g>
<text transform="translate(188.5 228.2) rotate(-90)" font-size="6.2" textLength="36.2" lengthAdjust="spacingAndGlyphs" fill="#2e2e2e">atp synthase</text>
<rect x="194.4" y="288.6" width="7.9" height="7.94" fill="rgb(217,234,242)"/>
<rect x="202.3" y="288.6" width="7.9" height="7.94" fill="rgb(173,210,228)"/>
<rect x="210.2" y="288.6" width="7.9" height="7.94" fill="rgb(228,240,246)"/>
<rect x="218.1" y="288.6" width="7.9" height="7.94" fill="rgb(230,76,80)"/>
<rect x="226" y="288.6" width="7.9" height="7.94" fill="rgb(226,49,54)"/>
<rect x="233.9" y="288.6" width="7.9" height="7.94" fill="rgb(228,67,72)"/>
<rect x="194.4" y="296.54" width="7.9" height="7.94" fill="rgb(152,198,221)"/>
<rect x="202.3" y="296.54" width="7.9" height="7.94" fill="rgb(184,216,232)"/>
<rect x="210.2" y="296.54" width="7.9" height="7.94" fill="rgb(212,231,241)"/>
<rect x="218.1" y="296.54" width="7.9" height="7.94" fill="rgb(241,156,159)"/>
<rect x="226" y="296.54" width="7.9" height="7.94" fill="rgb(236,121,124)"/>
<rect x="233.9" y="296.54" width="7.9" height="7.94" fill="rgb(242,165,168)"/>
<rect x="194.4" y="304.48" width="7.9" height="7.94" fill="rgb(239,246,250)"/>
<rect x="202.3" y="304.48" width="7.9" height="7.94" fill="rgb(233,243,248)"/>
<rect x="210.2" y="304.48" width="7.9" height="7.94" fill="rgb(239,246,250)"/>
<rect x="218.1" y="304.48" width="7.9" height="7.94" fill="rgb(249,210,211)"/>
<rect x="226" y="304.48" width="7.9" height="7.94" fill="rgb(249,210,211)"/>
<rect x="233.9" y="304.48" width="7.9" height="7.94" fill="rgb(250,219,220)"/>
<rect x="194.4" y="312.42" width="7.9" height="7.94" fill="rgb(157,201,223)"/>
<rect x="202.3" y="312.42" width="7.9" height="7.94" fill="rgb(163,204,224)"/>
<rect x="210.2" y="312.42" width="7.9" height="7.94" fill="rgb(168,207,226)"/>
<rect x="218.1" y="312.42" width="7.9" height="7.94" fill="rgb(254,251,251)"/>
<rect x="226" y="312.42" width="7.9" height="7.94" fill="rgb(255,255,255)"/>
<rect x="233.9" y="312.42" width="7.9" height="7.94" fill="rgb(250,252,253)"/>
<rect x="194.4" y="320.36" width="7.9" height="7.94" fill="rgb(179,213,230)"/>
<rect x="202.3" y="320.36" width="7.9" height="7.94" fill="rgb(201,225,237)"/>
<rect x="210.2" y="320.36" width="7.9" height="7.94" fill="rgb(173,210,228)"/>
<rect x="218.1" y="320.36" width="7.9" height="7.94" fill="rgb(253,242,242)"/>
<rect x="226" y="320.36" width="7.9" height="7.94" fill="rgb(255,255,255)"/>
<rect x="233.9" y="320.36" width="7.9" height="7.94" fill="rgb(244,249,251)"/>
<path d="M202.3 288.6V328.3M210.2 288.6V328.3M218.1 288.6V328.3M226 288.6V328.3M233.9 288.6V328.3M194.4 296.54H241.8M194.4 304.48H241.8M194.4 312.42H241.8M194.4 320.36H241.8" stroke="#ffffff" stroke-opacity="0.55" stroke-width="0.7" fill="none"/>
<rect x="194.4" y="288.6" width="47.4" height="39.7" fill="none" stroke="#2e3440" stroke-width="1.2"/>
<g transform="translate(244.8 0) scale(0.93 1)">
<text x="0" y="295.07" font-size="7" fill="#2e2e2e" class="rl">APOO</text>
<text x="0" y="303.01" font-size="7" fill="#2e2e2e" class="rl">APOOL</text>
<text x="0" y="310.95" font-size="7" fill="#2e2e2e" class="rl">CHCHD3</text>
<text x="0" y="318.89" font-size="7" fill="#2e2e2e" class="rl">CHCHD6</text>
<text x="0" y="326.83" font-size="7" fill="#2e2e2e" class="rl">MICOS10</text>
</g>
<text transform="translate(189.3 330.8) rotate(-90)" font-size="6.2" textLength="42.8" lengthAdjust="spacingAndGlyphs" fill="#2e2e2e">micos complex</text>
<text x="6.2" y="392.2" font-size="11.5" font-weight="bold" fill="#111">C</text>
<line x1="43.3" y1="396.9" x2="43.3" y2="473.3" stroke="#262626" stroke-width="1"/>
<line x1="41.3" y1="399.3" x2="43.3" y2="399.3" stroke="#262626" stroke-width="1"/>
<text x="37.6" y="401.6" font-size="6.4" text-anchor="end" fill="#2e2e2e">250</text>
<line x1="41.3" y1="414" x2="43.3" y2="414" stroke="#262626" stroke-width="1"/>
<text x="37.6" y="416.3" font-size="6.4" text-anchor="end" fill="#2e2e2e">200</text>
<line x1="41.3" y1="428.7" x2="43.3" y2="428.7" stroke="#262626" stroke-width="1"/>
<text x="37.6" y="431" font-size="6.4" text-anchor="end" fill="#2e2e2e">150</text>
<line x1="41.3" y1="443.4" x2="43.3" y2="443.4" stroke="#262626" stroke-width="1"/>
<text x="37.6" y="445.7" font-size="6.4" text-anchor="end" fill="#2e2e2e">100</text>
<line x1="41.3" y1="458.1" x2="43.3" y2="458.1" stroke="#262626" stroke-width="1"/>
<text x="37.6" y="460.4" font-size="6.4" text-anchor="end" fill="#2e2e2e">50</text>
<line x1="41.3" y1="472.8" x2="43.3" y2="472.8" stroke="#262626" stroke-width="1"/>
<text x="37.6" y="475.1" font-size="6.4" text-anchor="end" fill="#2e2e2e">0</text>
<line x1="42.1" y1="465.45" x2="43.3" y2="465.45" stroke="#262626" stroke-width="0.8"/>
<line x1="42.1" y1="450.75" x2="43.3" y2="450.75" stroke="#262626" stroke-width="0.8"/>
<line x1="42.1" y1="436.05" x2="43.3" y2="436.05" stroke="#262626" stroke-width="0.8"/>
<line x1="42.1" y1="421.35" x2="43.3" y2="421.35" stroke="#262626" stroke-width="0.8"/>
<line x1="42.1" y1="406.65" x2="43.3" y2="406.65" stroke="#262626" stroke-width="0.8"/>
<text transform="translate(20.6 460.8) rotate(-90)" font-size="7.2" textLength="55.2" lengthAdjust="spacingAndGlyphs" fill="#2e2e2e">Abundance (scaled)</text>
<text x="60.1" y="400.5" font-size="6.5" text-anchor="middle" fill="#2e2e2e">MT-ND2</text>
<line x1="48.8" y1="451.63" x2="48.8" y2="449.3" stroke="#262626" stroke-width="0.8"/>
<line x1="47.1" y1="449.3" x2="50.5" y2="449.3" stroke="#262626" stroke-width="0.9"/>
<rect x="46.3" y="451.63" width="5" height="21.17" fill="#c8102e"/>
<line x1="55.7" y1="447.22" x2="55.7" y2="445.7" stroke="#262626" stroke-width="0.8"/>
<line x1="54" y1="445.7" x2="57.4" y2="445.7" stroke="#262626" stroke-width="0.9"/>
<rect x="53.2" y="447.22" width="5" height="25.58" fill="#104e8b"/>
<circle cx="55.7" cy="442" r="0.85" fill="#2a2a2a"/>
<line x1="64.7" y1="441.05" x2="64.7" y2="438.2" stroke="#262626" stroke-width="0.8"/>
<line x1="63" y1="438.2" x2="66.4" y2="438.2" stroke="#262626" stroke-width="0.9"/>
<rect x="62.2" y="441.05" width="5" height="31.75" fill="#c8102e"/>
<line x1="71.7" y1="430.32" x2="71.7" y2="426.2" stroke="#262626" stroke-width="0.8"/>
<line x1="70" y1="426.2" x2="73.4" y2="426.2" stroke="#262626" stroke-width="0.9"/>
<rect x="69.2" y="430.32" width="5" height="42.48" fill="#104e8b"/>
<circle cx="70.4" cy="422.5" r="0.85" fill="#2a2a2a"/>
<circle cx="73" cy="422.5" r="0.85" fill="#2a2a2a"/>
<text x="92.2" y="400.5" font-size="6.5" text-anchor="middle" fill="#2e2e2e">MT-ND3</text>
<line x1="76.6" y1="394.5" x2="76.6" y2="472.8" stroke="#3a3a3a" stroke-width="0.8" stroke-dasharray="0.8 1.1"/>
<line x1="80.9" y1="448.1" x2="80.9" y2="440.3" stroke="#262626" stroke-width="0.8"/>
<line x1="79.2" y1="440.3" x2="82.6" y2="440.3" stroke="#262626" stroke-width="0.9"/>
<rect x="78.4" y="448.1" width="5" height="24.7" fill="#c8102e"/>
<line x1="87.8" y1="441.19" x2="87.8" y2="437.5" stroke="#262626" stroke-width="0.8"/>
<line x1="86.1" y1="437.5" x2="89.5" y2="437.5" stroke="#262626" stroke-width="0.9"/>
<rect x="85.3" y="441.19" width="5" height="31.61" fill="#104e8b"/>
<line x1="96.8" y1="442.52" x2="96.8" y2="439.8" stroke="#262626" stroke-width="0.8"/>
<line x1="95.1" y1="439.8" x2="98.5" y2="439.8" stroke="#262626" stroke-width="0.9"/>
<rect x="94.3" y="442.52" width="5" height="30.28" fill="#c8102e"/>
<line x1="103.8" y1="428.7" x2="103.8" y2="426.7" stroke="#262626" stroke-width="0.8"/>
<line x1="102.1" y1="426.7" x2="105.5" y2="426.7" stroke="#262626" stroke-width="0.9"/>
<rect x="101.3" y="428.7" width="5" height="44.1" fill="#104e8b"/>
<circle cx="101.2" cy="423" r="0.85" fill="#2a2a2a"/>
<circle cx="103.8" cy="423" r="0.85" fill="#2a2a2a"/>
<circle cx="106.4" cy="423" r="0.85" fill="#2a2a2a"/>
<text x="124.3" y="400.5" font-size="6.5" text-anchor="middle" fill="#2e2e2e">MT-ND4</text>
<line x1="108.6" y1="394.5" x2="108.6" y2="472.8" stroke="#3a3a3a" stroke-width="0.8" stroke-dasharray="0.8 1.1"/>
<line x1="113" y1="451.78" x2="113" y2="449.5" stroke="#262626" stroke-width="0.8"/>
<line x1="111.3" y1="449.5" x2="114.7" y2="449.5" stroke="#262626" stroke-width="0.9"/>
<rect x="110.5" y="451.78" width="5" height="21.02" fill="#c8102e"/>
<line x1="119.9" y1="445.9" x2="119.9" y2="443.5" stroke="#262626" stroke-width="0.8"/>
<line x1="118.2" y1="443.5" x2="121.6" y2="443.5" stroke="#262626" stroke-width="0.9"/>
<rect x="117.4" y="445.9" width="5" height="26.9" fill="#104e8b"/>
<circle cx="118.6" cy="439.8" r="0.85" fill="#2a2a2a"/>
<circle cx="121.2" cy="439.8" r="0.85" fill="#2a2a2a"/>
<line x1="128.9" y1="447.22" x2="128.9" y2="442.9" stroke="#262626" stroke-width="0.8"/>
<line x1="127.2" y1="442.9" x2="130.6" y2="442.9" stroke="#262626" stroke-width="0.9"/>
<rect x="126.4" y="447.22" width="5" height="25.58" fill="#c8102e"/>
<line x1="135.9" y1="438.99" x2="135.9" y2="437.1" stroke="#262626" stroke-width="0.8"/>
<line x1="134.2" y1="437.1" x2="137.6" y2="437.1" stroke="#262626" stroke-width="0.9"/>
<rect x="133.4" y="438.99" width="5" height="33.81" fill="#104e8b"/>
<circle cx="135.9" cy="433.4" r="0.85" fill="#2a2a2a"/>
<text x="156.4" y="400.5" font-size="6.5" text-anchor="middle" fill="#2e2e2e">MT-ND5</text>
<line x1="140.6" y1="394.5" x2="140.6" y2="472.8" stroke="#3a3a3a" stroke-width="0.8" stroke-dasharray="0.8 1.1"/>
<line x1="145.1" y1="451.34" x2="145.1" y2="449.5" stroke="#262626" stroke-width="0.8"/>
<line x1="143.4" y1="449.5" x2="146.8" y2="449.5" stroke="#262626" stroke-width="0.9"/>
<rect x="142.6" y="451.34" width="5" height="21.46" fill="#c8102e"/>
<line x1="152" y1="447.81" x2="152" y2="445.7" stroke="#262626" stroke-width="0.8"/>
<line x1="150.3" y1="445.7" x2="153.7" y2="445.7" stroke="#262626" stroke-width="0.9"/>
<rect x="149.5" y="447.81" width="5" height="24.99" fill="#104e8b"/>
<line x1="161" y1="443.99" x2="161" y2="441.3" stroke="#262626" stroke-width="0.8"/>
<line x1="159.3" y1="441.3" x2="162.7" y2="441.3" stroke="#262626" stroke-width="0.9"/>
<rect x="158.5" y="443.99" width="5" height="28.81" fill="#c8102e"/>
<line x1="168" y1="431.64" x2="168" y2="428.6" stroke="#262626" stroke-width="0.8"/>
<line x1="166.3" y1="428.6" x2="169.7" y2="428.6" stroke="#262626" stroke-width="0.9"/>
<rect x="165.5" y="431.64" width="5" height="41.16" fill="#104e8b"/>
<circle cx="166.7" cy="424.9" r="0.85" fill="#2a2a2a"/>
<circle cx="169.3" cy="424.9" r="0.85" fill="#2a2a2a"/>
<text x="188.5" y="400.5" font-size="6.5" text-anchor="middle" fill="#2e2e2e">MT-ND6</text>
<line x1="172.6" y1="394.5" x2="172.6" y2="472.8" stroke="#3a3a3a" stroke-width="0.8" stroke-dasharray="0.8 1.1"/>
<line x1="177.2" y1="446.05" x2="177.2" y2="444" stroke="#262626" stroke-width="0.8"/>
<line x1="175.5" y1="444" x2="178.9" y2="444" stroke="#262626" stroke-width="0.9"/>
<rect x="174.7" y="446.05" width="5" height="26.75" fill="#c8102e"/>
<line x1="184.1" y1="441.19" x2="184.1" y2="437.5" stroke="#262626" stroke-width="0.8"/>
<line x1="182.4" y1="437.5" x2="185.8" y2="437.5" stroke="#262626" stroke-width="0.9"/>
<rect x="181.6" y="441.19" width="5" height="31.61" fill="#104e8b"/>
<line x1="193.1" y1="440.9" x2="193.1" y2="437.5" stroke="#262626" stroke-width="0.8"/>
<line x1="191.4" y1="437.5" x2="194.8" y2="437.5" stroke="#262626" stroke-width="0.9"/>
<rect x="190.6" y="440.9" width="5" height="31.9" fill="#c8102e"/>
<line x1="200.1" y1="421.35" x2="200.1" y2="416" stroke="#262626" stroke-width="0.8"/>
<line x1="198.4" y1="416" x2="201.8" y2="416" stroke="#262626" stroke-width="0.9"/>
<rect x="197.6" y="421.35" width="5" height="51.45" fill="#104e8b"/>
<circle cx="198.8" cy="412.3" r="0.85" fill="#2a2a2a"/>
<circle cx="201.4" cy="412.3" r="0.85" fill="#2a2a2a"/>
<text x="220.6" y="400.5" font-size="6.5" text-anchor="middle" fill="#2e2e2e">MT-ATP6</text>
<line x1="204.6" y1="394.5" x2="204.6" y2="472.8" stroke="#3a3a3a" stroke-width="0.8" stroke-dasharray="0.8 1.1"/>
<line x1="209.3" y1="448.1" x2="209.3" y2="446.5" stroke="#262626" stroke-width="0.8"/>
<line x1="207.6" y1="446.5" x2="211" y2="446.5" stroke="#262626" stroke-width="0.9"/>
<rect x="206.8" y="448.1" width="5" height="24.7" fill="#c8102e"/>
<line x1="216.2" y1="442.81" x2="216.2" y2="441.3" stroke="#262626" stroke-width="0.8"/>
<line x1="214.5" y1="441.3" x2="217.9" y2="441.3" stroke="#262626" stroke-width="0.9"/>
<rect x="213.7" y="442.81" width="5" height="29.99" fill="#104e8b"/>
<circle cx="216.2" cy="437.6" r="0.85" fill="#2a2a2a"/>
<line x1="225.2" y1="445.02" x2="225.2" y2="443.3" stroke="#262626" stroke-width="0.8"/>
<line x1="223.5" y1="443.3" x2="226.9" y2="443.3" stroke="#262626" stroke-width="0.9"/>
<rect x="222.7" y="445.02" width="5" height="27.78" fill="#c8102e"/>
<line x1="232.2" y1="431.64" x2="232.2" y2="428.3" stroke="#262626" stroke-width="0.8"/>
<line x1="230.5" y1="428.3" x2="233.9" y2="428.3" stroke="#262626" stroke-width="0.9"/>
<rect x="229.7" y="431.64" width="5" height="41.16" fill="#104e8b"/>
<circle cx="230.9" cy="424.6" r="0.85" fill="#2a2a2a"/>
<circle cx="233.5" cy="424.6" r="0.85" fill="#2a2a2a"/>
<text x="252.7" y="400.5" font-size="6.5" text-anchor="middle" fill="#2e2e2e">MT-CO1</text>
<line x1="236.6" y1="394.5" x2="236.6" y2="472.8" stroke="#3a3a3a" stroke-width="0.8" stroke-dasharray="0.8 1.1"/>
<line x1="241.4" y1="449.13" x2="241.4" y2="446.3" stroke="#262626" stroke-width="0.8"/>
<line x1="239.7" y1="446.3" x2="243.1" y2="446.3" stroke="#262626" stroke-width="0.9"/>
<rect x="238.9" y="449.13" width="5" height="23.67" fill="#c8102e"/>
<line x1="248.3" y1="438.11" x2="248.3" y2="434.6" stroke="#262626" stroke-width="0.8"/>
<line x1="246.6" y1="434.6" x2="250" y2="434.6" stroke="#262626" stroke-width="0.9"/>
<rect x="245.8" y="438.11" width="5" height="34.69" fill="#104e8b"/>
<circle cx="248.3" cy="430.9" r="0.85" fill="#2a2a2a"/>
<line x1="257.3" y1="446.78" x2="257.3" y2="440.2" stroke="#262626" stroke-width="0.8"/>
<line x1="255.6" y1="440.2" x2="259" y2="440.2" stroke="#262626" stroke-width="0.9"/>
<rect x="254.8" y="446.78" width="5" height="26.02" fill="#c8102e"/>
<line x1="264.3" y1="426.35" x2="264.3" y2="422.1" stroke="#262626" stroke-width="0.8"/>
<line x1="262.6" y1="422.1" x2="266" y2="422.1" stroke="#262626" stroke-width="0.9"/>
<rect x="261.8" y="426.35" width="5" height="46.45" fill="#104e8b"/>
<circle cx="264.3" cy="418.4" r="0.85" fill="#2a2a2a"/>
<text x="284.8" y="400.5" font-size="6.5" text-anchor="middle" fill="#2e2e2e">MT-CO3</text>
<line x1="268.6" y1="394.5" x2="268.6" y2="472.8" stroke="#3a3a3a" stroke-width="0.8" stroke-dasharray="0.8 1.1"/>
<line x1="289.4" y1="444.72" x2="289.4" y2="438.4" stroke="#262626" stroke-width="0.8"/>
<line x1="287.7" y1="438.4" x2="291.1" y2="438.4" stroke="#262626" stroke-width="0.9"/>
<rect x="286.9" y="444.72" width="5" height="28.08" fill="#c8102e"/>
<line x1="296.4" y1="429.88" x2="296.4" y2="423.5" stroke="#262626" stroke-width="0.8"/>
<line x1="294.7" y1="423.5" x2="298.1" y2="423.5" stroke="#262626" stroke-width="0.9"/>
<rect x="293.9" y="429.88" width="5" height="42.92" fill="#104e8b"/>
<circle cx="296.4" cy="419.8" r="0.85" fill="#2a2a2a"/>
<text x="277" y="470.8" font-size="6.6" text-anchor="middle" fill="#2e2e2e">nd</text>
<text x="320.7" y="400.5" font-size="6.5" text-anchor="middle" fill="#2e2e2e">MT-CYTB</text>
<line x1="300.6" y1="394.5" x2="300.6" y2="472.8" stroke="#3a3a3a" stroke-width="0.8" stroke-dasharray="0.8 1.1"/>
<line x1="321.5" y1="439.14" x2="321.5" y2="436.3" stroke="#262626" stroke-width="0.8"/>
<line x1="319.8" y1="436.3" x2="323.2" y2="436.3" stroke="#262626" stroke-width="0.9"/>
<rect x="319" y="439.14" width="5" height="33.66" fill="#c8102e"/>
<circle cx="321.5" cy="432.6" r="0.85" fill="#2a2a2a"/>
<line x1="328.5" y1="415.32" x2="328.5" y2="409.5" stroke="#262626" stroke-width="0.8"/>
<line x1="326.8" y1="409.5" x2="330.2" y2="409.5" stroke="#262626" stroke-width="0.9"/>
<rect x="326" y="415.32" width="5" height="57.48" fill="#104e8b"/>
<circle cx="327.2" cy="405.8" r="0.85" fill="#2a2a2a"/>
<circle cx="329.8" cy="405.8" r="0.85" fill="#2a2a2a"/>
<text x="309.1" y="470.8" font-size="6.6" text-anchor="middle" fill="#2e2e2e">nd</text>
<line x1="41.5" y1="472.8" x2="337" y2="472.8" stroke="#262626" stroke-width="1"/>
<line x1="52.2" y1="472.8" x2="52.2" y2="475.6" stroke="#262626" stroke-width="1"/>
<line x1="68.2" y1="472.8" x2="68.2" y2="475.6" stroke="#262626" stroke-width="1"/>
<line x1="84.3" y1="472.8" x2="84.3" y2="475.6" stroke="#262626" stroke-width="1"/>
<line x1="100.3" y1="472.8" x2="100.3" y2="475.6" stroke="#262626" stroke-width="1"/>
<line x1="116.4" y1="472.8" x2="116.4" y2="475.6" stroke="#262626" stroke-width="1"/>
<line x1="132.4" y1="472.8" x2="132.4" y2="475.6" stroke="#262626" stroke-width="1"/>
<line x1="148.5" y1="472.8" x2="148.5" y2="475.6" stroke="#262626" stroke-width="1"/>
<line x1="164.5" y1="472.8" x2="164.5" y2="475.6" stroke="#262626" stroke-width="1"/>
<line x1="180.6" y1="472.8" x2="180.6" y2="475.6" stroke="#262626" stroke-width="1"/>
<line x1="196.6" y1="472.8" x2="196.6" y2="475.6" stroke="#262626" stroke-width="1"/>
<line x1="212.7" y1="472.8" x2="212.7" y2="475.6" stroke="#262626" stroke-width="1"/>
<line x1="228.7" y1="472.8" x2="228.7" y2="475.6" stroke="#262626" stroke-width="1"/>
<line x1="244.8" y1="472.8" x2="244.8" y2="475.6" stroke="#262626" stroke-width="1"/>
<line x1="260.8" y1="472.8" x2="260.8" y2="475.6" stroke="#262626" stroke-width="1"/>
<line x1="276.9" y1="472.8" x2="276.9" y2="475.6" stroke="#262626" stroke-width="1"/>
<line x1="292.9" y1="472.8" x2="292.9" y2="475.6" stroke="#262626" stroke-width="1"/>
<line x1="309" y1="472.8" x2="309" y2="475.6" stroke="#262626" stroke-width="1"/>
<line x1="325" y1="472.8" x2="325" y2="475.6" stroke="#262626" stroke-width="1"/>
<text x="52.2" y="484.7" font-size="6.2" text-anchor="middle" fill="#2e2e2e">0</text>
<text x="68.2" y="484.7" font-size="6.2" text-anchor="middle" fill="#2e2e2e">2</text>
<text x="84.3" y="484.7" font-size="6.2" text-anchor="middle" fill="#2e2e2e">0</text>
<text x="100.3" y="484.7" font-size="6.2" text-anchor="middle" fill="#2e2e2e">2</text>
<text x="116.4" y="484.7" font-size="6.2" text-anchor="middle" fill="#2e2e2e">0</text>
<text x="132.4" y="484.7" font-size="6.2" text-anchor="middle" fill="#2e2e2e">2</text>
<text x="148.5" y="484.7" font-size="6.2" text-anchor="middle" fill="#2e2e2e">0</text>
<text x="164.5" y="484.7" font-size="6.2" text-anchor="middle" fill="#2e2e2e">2</text>
<text x="180.6" y="484.7" font-size="6.2" text-anchor="middle" fill="#2e2e2e">0</text>
<text x="196.6" y="484.7" font-size="6.2" text-anchor="middle" fill="#2e2e2e">2</text>
<text x="212.7" y="484.7" font-size="6.2" text-anchor="middle" fill="#2e2e2e">0</text>
<text x="228.7" y="484.7" font-size="6.2" text-anchor="middle" fill="#2e2e2e">2</text>
<text x="244.8" y="484.7" font-size="6.2" text-anchor="middle" fill="#2e2e2e">0</text>
<text x="260.8" y="484.7" font-size="6.2" text-anchor="middle" fill="#2e2e2e">2</text>
<text x="276.9" y="484.7" font-size="6.2" text-anchor="middle" fill="#2e2e2e">0</text>
<text x="292.9" y="484.7" font-size="6.2" text-anchor="middle" fill="#2e2e2e">2</text>
<text x="309" y="484.7" font-size="6.2" text-anchor="middle" fill="#2e2e2e">0</text>
<text x="325" y="484.7" font-size="6.2" text-anchor="middle" fill="#2e2e2e">2</text>
<text x="191.8" y="495.6" font-size="7.6" text-anchor="middle" textLength="58" lengthAdjust="spacingAndGlyphs" fill="#2e2e2e">Day of differentiation</text>
<rect x="43.1" y="501.2" width="6.1" height="5.8" fill="#c8102e"/>
<text x="52" y="506.2" font-size="6.6" textLength="8.8" lengthAdjust="spacingAndGlyphs" fill="#2e2e2e">WT</text>
<rect x="67.5" y="501.2" width="6.2" height="5.8" fill="#104e8b"/>
<text x="76.2" y="506.3" font-size="6.6" fill="#2e2e2e" textLength="12.9" lengthAdjust="spacingAndGlyphs">KLF1</text>
<text x="90" y="502.6" font-size="3.7" fill="#2e2e2e" textLength="13.3" lengthAdjust="spacingAndGlyphs">+/E325K</text>
<text x="284.2" y="16.4" font-size="11.5" font-weight="bold" fill="#111">D</text>
<line x1="316.2" y1="23" x2="316.2" y2="86.4" stroke="#262626" stroke-width="1"/>
<line x1="314.2" y1="25.4" x2="316.2" y2="25.4" stroke="#262626" stroke-width="1"/>
<text x="310.5" y="27.7" font-size="6.4" text-anchor="end" fill="#2e2e2e">250</text>
<line x1="314.2" y1="37.5" x2="316.2" y2="37.5" stroke="#262626" stroke-width="1"/>
<text x="310.5" y="39.8" font-size="6.4" text-anchor="end" fill="#2e2e2e">200</text>
<line x1="314.2" y1="49.6" x2="316.2" y2="49.6" stroke="#262626" stroke-width="1"/>
<text x="310.5" y="51.9" font-size="6.4" text-anchor="end" fill="#2e2e2e">150</text>
<line x1="314.2" y1="61.7" x2="316.2" y2="61.7" stroke="#262626" stroke-width="1"/>
<text x="310.5" y="64" font-size="6.4" text-anchor="end" fill="#2e2e2e">100</text>
<line x1="314.2" y1="73.8" x2="316.2" y2="73.8" stroke="#262626" stroke-width="1"/>
<text x="310.5" y="76.1" font-size="6.4" text-anchor="end" fill="#2e2e2e">50</text>
<line x1="314.2" y1="85.9" x2="316.2" y2="85.9" stroke="#262626" stroke-width="1"/>
<text x="310.5" y="88.2" font-size="6.4" text-anchor="end" fill="#2e2e2e">0</text>
<line x1="315" y1="79.85" x2="316.2" y2="79.85" stroke="#262626" stroke-width="0.8"/>
<line x1="315" y1="67.75" x2="316.2" y2="67.75" stroke="#262626" stroke-width="0.8"/>
<line x1="315" y1="55.65" x2="316.2" y2="55.65" stroke="#262626" stroke-width="0.8"/>
<line x1="315" y1="43.55" x2="316.2" y2="43.55" stroke="#262626" stroke-width="0.8"/>
<line x1="315" y1="31.45" x2="316.2" y2="31.45" stroke="#262626" stroke-width="0.8"/>
<text transform="translate(293.9 81.7) rotate(-90)" font-size="7" textLength="55.6" lengthAdjust="spacingAndGlyphs" fill="#2e2e2e">Abundance (scaled)</text>
<text x="331.45" y="28.1" font-size="6.3" text-anchor="middle" fill="#2e2e2e">TFAM</text>
<path d="M319 85.9V67.46Q319 66.06 320.4 66.06H322Q323.4 66.06 323.4 67.46V85.9Z" fill="#c8102e"/>
<line x1="327.8" y1="61.94" x2="327.8" y2="60.3" stroke="#262626" stroke-width="0.8"/>
<line x1="326.1" y1="60.3" x2="329.5" y2="60.3" stroke="#262626" stroke-width="0.9"/>
<rect x="325.6" y="61.94" width="4.4" height="23.96" fill="#104e8b"/>
<circle cx="325.2" cy="57" r="0.85" fill="#2a2a2a"/>
<circle cx="327.8" cy="57" r="0.85" fill="#2a2a2a"/>
<circle cx="330.4" cy="57" r="0.85" fill="#2a2a2a"/>
<line x1="335.6" y1="64.12" x2="335.6" y2="62.6" stroke="#262626" stroke-width="0.8"/>
<line x1="333.9" y1="62.6" x2="337.3" y2="62.6" stroke="#262626" stroke-width="0.9"/>
<rect x="333.4" y="64.12" width="4.4" height="21.78" fill="#c8102e"/>
<line x1="342.3" y1="48.39" x2="342.3" y2="46.3" stroke="#262626" stroke-width="0.8"/>
<line x1="340.6" y1="46.3" x2="344" y2="46.3" stroke="#262626" stroke-width="0.9"/>
<rect x="340.1" y="48.39" width="4.4" height="37.51" fill="#104e8b"/>
<circle cx="339.7" cy="43" r="0.85" fill="#2a2a2a"/>
<circle cx="342.3" cy="43" r="0.85" fill="#2a2a2a"/>
<circle cx="344.9" cy="43" r="0.85" fill="#2a2a2a"/>
<text x="361.2" y="28.1" font-size="6.3" text-anchor="middle" fill="#2e2e2e">TFB2M</text>
<line x1="346.4" y1="22" x2="346.4" y2="85.9" stroke="#3a3a3a" stroke-width="0.8" stroke-dasharray="0.8 1.1"/>
<path d="M348.3 85.9V60.8Q348.3 59.4 349.7 59.4H351.3Q352.7 59.4 352.7 60.8V85.9Z" fill="#c8102e"/>
<path d="M354.9 85.9V58.5Q354.9 57.1 356.3 57.1H357.9Q359.3 57.1 359.3 58.5V85.9Z" fill="#104e8b"/>
<circle cx="354.5" cy="54.1" r="0.85" fill="#2a2a2a"/>
<circle cx="357.1" cy="54.1" r="0.85" fill="#2a2a2a"/>
<circle cx="359.7" cy="54.1" r="0.85" fill="#2a2a2a"/>
<line x1="364.9" y1="67.51" x2="364.9" y2="66.3" stroke="#262626" stroke-width="0.8"/>
<line x1="363.2" y1="66.3" x2="366.6" y2="66.3" stroke="#262626" stroke-width="0.9"/>
<rect x="362.7" y="67.51" width="4.4" height="18.39" fill="#c8102e"/>
<line x1="371.6" y1="63.64" x2="371.6" y2="62.4" stroke="#262626" stroke-width="0.8"/>
<line x1="369.9" y1="62.4" x2="373.3" y2="62.4" stroke="#262626" stroke-width="0.9"/>
<rect x="369.4" y="63.64" width="4.4" height="22.26" fill="#104e8b"/>
<circle cx="370.3" cy="59.1" r="0.85" fill="#2a2a2a"/>
<circle cx="372.9" cy="59.1" r="0.85" fill="#2a2a2a"/>
<text x="391.55" y="28.1" font-size="6.3" text-anchor="middle" fill="#2e2e2e">TEFM</text>
<line x1="376" y1="22" x2="376" y2="85.9" stroke="#3a3a3a" stroke-width="0.8" stroke-dasharray="0.8 1.1"/>
<path d="M377.9 85.9V66.25Q377.9 64.85 379.3 64.85H380.9Q382.3 64.85 382.3 66.25V85.9Z" fill="#c8102e"/>
<path d="M384.5 85.9V62.86Q384.5 61.46 385.9 61.46H387.5Q388.9 61.46 388.9 62.86V85.9Z" fill="#104e8b"/>
<circle cx="384.1" cy="58.46" r="0.85" fill="#2a2a2a"/>
<circle cx="386.7" cy="58.46" r="0.85" fill="#2a2a2a"/>
<circle cx="389.3" cy="58.46" r="0.85" fill="#2a2a2a"/>
<line x1="394.5" y1="63.52" x2="394.5" y2="62.2" stroke="#262626" stroke-width="0.8"/>
<line x1="392.8" y1="62.2" x2="396.2" y2="62.2" stroke="#262626" stroke-width="0.9"/>
<rect x="392.3" y="63.52" width="4.4" height="22.38" fill="#c8102e"/>
<path d="M399 85.9V60.2Q399 58.8 400.4 58.8H402Q403.4 58.8 403.4 60.2V85.9Z" fill="#104e8b"/>
<circle cx="398.6" cy="55.8" r="0.85" fill="#2a2a2a"/>
<circle cx="401.2" cy="55.8" r="0.85" fill="#2a2a2a"/>
<circle cx="403.8" cy="55.8" r="0.85" fill="#2a2a2a"/>
<line x1="313.7" y1="85.9" x2="406.3" y2="85.9" stroke="#262626" stroke-width="1"/>
<line x1="324.4" y1="85.9" x2="324.4" y2="88.5" stroke="#262626" stroke-width="1"/>
<line x1="338.9" y1="85.9" x2="338.9" y2="88.5" stroke="#262626" stroke-width="1"/>
<line x1="353.7" y1="85.9" x2="353.7" y2="88.5" stroke="#262626" stroke-width="1"/>
<line x1="368.2" y1="85.9" x2="368.2" y2="88.5" stroke="#262626" stroke-width="1"/>
<line x1="383.3" y1="85.9" x2="383.3" y2="88.5" stroke="#262626" stroke-width="1"/>
<line x1="397.8" y1="85.9" x2="397.8" y2="88.5" stroke="#262626" stroke-width="1"/>
<text x="324.4" y="97.5" font-size="6.2" text-anchor="middle" fill="#2e2e2e">0</text>
<text x="338.9" y="97.5" font-size="6.2" text-anchor="middle" fill="#2e2e2e">2</text>
<text x="353.7" y="97.5" font-size="6.2" text-anchor="middle" fill="#2e2e2e">0</text>
<text x="368.2" y="97.5" font-size="6.2" text-anchor="middle" fill="#2e2e2e">2</text>
<text x="383.3" y="97.5" font-size="6.2" text-anchor="middle" fill="#2e2e2e">0</text>
<text x="397.8" y="97.5" font-size="6.2" text-anchor="middle" fill="#2e2e2e">2</text>
<text x="361.6" y="108.3" font-size="7.6" text-anchor="middle" textLength="58.6" lengthAdjust="spacingAndGlyphs" fill="#2e2e2e">Day of differentiation</text>
<text x="419.6" y="16.4" font-size="11.5" font-weight="bold" textLength="6.2" lengthAdjust="spacingAndGlyphs" fill="#111">E</text>
<line x1="450.3" y1="23" x2="450.3" y2="86.4" stroke="#262626" stroke-width="1"/>
<line x1="448.3" y1="25.4" x2="450.3" y2="25.4" stroke="#262626" stroke-width="1"/>
<text x="444.6" y="27.7" font-size="6.4" text-anchor="end" fill="#2e2e2e">250</text>
<line x1="448.3" y1="37.5" x2="450.3" y2="37.5" stroke="#262626" stroke-width="1"/>
<text x="444.6" y="39.8" font-size="6.4" text-anchor="end" fill="#2e2e2e">200</text>
<line x1="448.3" y1="49.6" x2="450.3" y2="49.6" stroke="#262626" stroke-width="1"/>
<text x="444.6" y="51.9" font-size="6.4" text-anchor="end" fill="#2e2e2e">150</text>
<line x1="448.3" y1="61.7" x2="450.3" y2="61.7" stroke="#262626" stroke-width="1"/>
<text x="444.6" y="64" font-size="6.4" text-anchor="end" fill="#2e2e2e">100</text>
<line x1="448.3" y1="73.8" x2="450.3" y2="73.8" stroke="#262626" stroke-width="1"/>
<text x="444.6" y="76.1" font-size="6.4" text-anchor="end" fill="#2e2e2e">50</text>
<line x1="448.3" y1="85.9" x2="450.3" y2="85.9" stroke="#262626" stroke-width="1"/>
<text x="444.6" y="88.2" font-size="6.4" text-anchor="end" fill="#2e2e2e">0</text>
<line x1="449.1" y1="79.85" x2="450.3" y2="79.85" stroke="#262626" stroke-width="0.8"/>
<line x1="449.1" y1="67.75" x2="450.3" y2="67.75" stroke="#262626" stroke-width="0.8"/>
<line x1="449.1" y1="55.65" x2="450.3" y2="55.65" stroke="#262626" stroke-width="0.8"/>
<line x1="449.1" y1="43.55" x2="450.3" y2="43.55" stroke="#262626" stroke-width="0.8"/>
<line x1="449.1" y1="31.45" x2="450.3" y2="31.45" stroke="#262626" stroke-width="0.8"/>
<text transform="translate(429 82.2) rotate(-90)" font-size="7" textLength="55.5" lengthAdjust="spacingAndGlyphs" fill="#2e2e2e">Abundance (scaled)</text>
<text x="466.3" y="28.1" font-size="6.3" text-anchor="middle" fill="#2e2e2e">POLG</text>
<line x1="455.65" y1="64.12" x2="455.65" y2="62.3" stroke="#262626" stroke-width="0.8"/>
<line x1="453.95" y1="62.3" x2="457.35" y2="62.3" stroke="#262626" stroke-width="0.9"/>
<rect x="453.3" y="64.12" width="4.7" height="21.78" fill="#c8102e"/>
<path d="M460.2 85.9V62.01Q460.2 60.61 461.6 60.61H463.5Q464.9 60.61 464.9 62.01V85.9Z" fill="#104e8b"/>
<line x1="470.45" y1="63.52" x2="470.45" y2="59.9" stroke="#262626" stroke-width="0.8"/>
<line x1="468.75" y1="59.9" x2="472.15" y2="59.9" stroke="#262626" stroke-width="0.9"/>
<rect x="468.1" y="63.52" width="4.7" height="22.38" fill="#c8102e"/>
<line x1="477.25" y1="57.1" x2="477.25" y2="53.3" stroke="#262626" stroke-width="0.8"/>
<line x1="475.55" y1="53.3" x2="478.95" y2="53.3" stroke="#262626" stroke-width="0.9"/>
<rect x="474.9" y="57.1" width="4.7" height="28.8" fill="#104e8b"/>
<text x="496.4" y="28.1" font-size="6.3" text-anchor="middle" fill="#2e2e2e">POLG2</text>
<line x1="481.4" y1="22" x2="481.4" y2="85.9" stroke="#3a3a3a" stroke-width="0.8" stroke-dasharray="0.8 1.1"/>
<line x1="485.75" y1="66.06" x2="485.75" y2="64.2" stroke="#262626" stroke-width="0.8"/>
<line x1="484.05" y1="64.2" x2="487.45" y2="64.2" stroke="#262626" stroke-width="0.9"/>
<rect x="483.4" y="66.06" width="4.7" height="19.84" fill="#c8102e"/>
<line x1="492.65" y1="60.01" x2="492.65" y2="57.6" stroke="#262626" stroke-width="0.8"/>
<line x1="490.95" y1="57.6" x2="494.35" y2="57.6" stroke="#262626" stroke-width="0.9"/>
<rect x="490.3" y="60.01" width="4.7" height="25.89" fill="#104e8b"/>
<circle cx="490.05" cy="54.3" r="0.85" fill="#2a2a2a"/>
<circle cx="492.65" cy="54.3" r="0.85" fill="#2a2a2a"/>
<circle cx="495.25" cy="54.3" r="0.85" fill="#2a2a2a"/>
<line x1="500.55" y1="64.12" x2="500.55" y2="61.4" stroke="#262626" stroke-width="0.8"/>
<line x1="498.85" y1="61.4" x2="502.25" y2="61.4" stroke="#262626" stroke-width="0.9"/>
<rect x="498.2" y="64.12" width="4.7" height="21.78" fill="#c8102e"/>
<line x1="507.35" y1="51.29" x2="507.35" y2="47.4" stroke="#262626" stroke-width="0.8"/>
<line x1="505.65" y1="47.4" x2="509.05" y2="47.4" stroke="#262626" stroke-width="0.9"/>
<rect x="505" y="51.29" width="4.7" height="34.61" fill="#104e8b"/>
<circle cx="504.75" cy="44.1" r="0.85" fill="#2a2a2a"/>
<circle cx="507.35" cy="44.1" r="0.85" fill="#2a2a2a"/>
<circle cx="509.95" cy="44.1" r="0.85" fill="#2a2a2a"/>
<line x1="448.2" y1="85.9" x2="512.7" y2="85.9" stroke="#262626" stroke-width="1"/>
<line x1="459" y1="85.9" x2="459" y2="88.5" stroke="#262626" stroke-width="1"/>
<line x1="473.7" y1="85.9" x2="473.7" y2="88.5" stroke="#262626" stroke-width="1"/>
<line x1="489.1" y1="85.9" x2="489.1" y2="88.5" stroke="#262626" stroke-width="1"/>
<line x1="503.8" y1="85.9" x2="503.8" y2="88.5" stroke="#262626" stroke-width="1"/>
<text x="459" y="97.9" font-size="6.2" text-anchor="middle" fill="#2e2e2e">0</text>
<text x="473.7" y="97.9" font-size="6.2" text-anchor="middle" fill="#2e2e2e">2</text>
<text x="489.1" y="97.9" font-size="6.2" text-anchor="middle" fill="#2e2e2e">0</text>
<text x="503.8" y="97.9" font-size="6.2" text-anchor="middle" fill="#2e2e2e">2</text>
<text x="481.6" y="108.6" font-size="7.6" text-anchor="middle" textLength="58.9" lengthAdjust="spacingAndGlyphs" fill="#2e2e2e">Day of differentiation</text>
<text x="285.2" y="122.9" font-size="11.5" font-weight="bold" fill="#111">F</text>
<rect x="287.6" y="128.7" width="1.45" height="1.3" fill="#262626"/>
<rect x="287.6" y="131" width="1.45" height="4.4" fill="#262626"/>
<rect x="361.3" y="128.8" width="1.4" height="1.3" fill="#262626"/>
<rect x="361.3" y="131.1" width="1.4" height="4.5" fill="#262626"/>
<rect x="363.9" y="128.8" width="1.4" height="1.3" fill="#262626"/>
<rect x="363.9" y="131.1" width="1.4" height="4.5" fill="#262626"/>
<rect x="440.7" y="128.8" width="1.35" height="1.4" fill="#262626"/>
<rect x="440.7" y="131.2" width="1.35" height="4.5" fill="#262626"/>
<rect x="442.9" y="128.8" width="1.35" height="1.4" fill="#262626"/>
<rect x="442.9" y="131.2" width="1.35" height="4.5" fill="#262626"/>
<rect x="445.1" y="128.8" width="1.35" height="1.4" fill="#262626"/>
<rect x="445.1" y="131.2" width="1.35" height="4.5" fill="#262626"/>
<line x1="305.2" y1="142.7" x2="305.2" y2="205.6" stroke="#262626" stroke-width="1"/>
<line x1="303.2" y1="145.1" x2="305.2" y2="145.1" stroke="#262626" stroke-width="1"/>
<text x="299.5" y="147.4" font-size="6.4" text-anchor="end" fill="#2e2e2e">5</text>
<line x1="303.2" y1="157.1" x2="305.2" y2="157.1" stroke="#262626" stroke-width="1"/>
<text x="299.5" y="159.4" font-size="6.4" text-anchor="end" fill="#2e2e2e">4</text>
<line x1="303.2" y1="169.1" x2="305.2" y2="169.1" stroke="#262626" stroke-width="1"/>
<text x="299.5" y="171.4" font-size="6.4" text-anchor="end" fill="#2e2e2e">3</text>
<line x1="303.2" y1="181.1" x2="305.2" y2="181.1" stroke="#262626" stroke-width="1"/>
<text x="299.5" y="183.4" font-size="6.4" text-anchor="end" fill="#2e2e2e">2</text>
<line x1="303.2" y1="193.1" x2="305.2" y2="193.1" stroke="#262626" stroke-width="1"/>
<text x="299.5" y="195.4" font-size="6.4" text-anchor="end" fill="#2e2e2e">1</text>
<line x1="303.2" y1="205.1" x2="305.2" y2="205.1" stroke="#262626" stroke-width="1"/>
<text x="299.5" y="207.4" font-size="6.4" text-anchor="end" fill="#2e2e2e">0</text>
<line x1="304" y1="199.1" x2="305.2" y2="199.1" stroke="#262626" stroke-width="0.8"/>
<line x1="304" y1="187.1" x2="305.2" y2="187.1" stroke="#262626" stroke-width="0.8"/>
<line x1="304" y1="175.1" x2="305.2" y2="175.1" stroke="#262626" stroke-width="0.8"/>
<line x1="304" y1="163.1" x2="305.2" y2="163.1" stroke="#262626" stroke-width="0.8"/>
<line x1="304" y1="151.1" x2="305.2" y2="151.1" stroke="#262626" stroke-width="0.8"/>
<text transform="translate(289.5 196.5) rotate(-90)" font-size="7" textLength="44.2" lengthAdjust="spacingAndGlyphs" fill="#2e2e2e">Cardiolipin (nM)</text>
<line x1="313.85" y1="162.86" x2="313.85" y2="157.7" stroke="#262626" stroke-width="0.8"/>
<line x1="312.15" y1="157.7" x2="315.55" y2="157.7" stroke="#262626" stroke-width="0.9"/>
<rect x="310" y="162.86" width="7.7" height="42.24" fill="#c8102e"/>
<line x1="324.95" y1="155.66" x2="324.95" y2="153.2" stroke="#262626" stroke-width="0.8"/>
<line x1="323.25" y1="153.2" x2="326.65" y2="153.2" stroke="#262626" stroke-width="0.9"/>
<rect x="321.1" y="155.66" width="7.7" height="49.44" fill="#104e8b"/>
<circle cx="323.7" cy="149.6" r="0.85" fill="#2a2a2a"/>
<circle cx="326.3" cy="149.6" r="0.85" fill="#2a2a2a"/>
<line x1="336.25" y1="167.9" x2="336.25" y2="161.8" stroke="#8a5a50" stroke-width="0.8"/>
<line x1="334.55" y1="161.8" x2="337.95" y2="161.8" stroke="#8a5a50" stroke-width="0.9"/>
<rect x="332.4" y="167.9" width="7.7" height="37.2" fill="#de887e"/>
<line x1="302.5" y1="205.1" x2="344.7" y2="205.1" stroke="#262626" stroke-width="1"/>
<line x1="313.9" y1="205.1" x2="313.9" y2="207.3" stroke="#262626" stroke-width="1"/>
<line x1="325" y1="205.1" x2="325" y2="207.3" stroke="#262626" stroke-width="1"/>
<line x1="336.2" y1="205.1" x2="336.2" y2="207.3" stroke="#262626" stroke-width="1"/>
<text transform="translate(313.5 214.5) rotate(-45)" font-size="6.2" text-anchor="end" fill="#2e2e2e">WT</text>
<text transform="translate(324.5 214.3) rotate(-45)" font-size="5.7" text-anchor="end" fill="#2e2e2e">KLF1<tspan font-size="3.42" dy="-2.2">+/E325K</tspan></text>
<text transform="translate(335.8 214.3) rotate(-45)" font-size="5.7" text-anchor="end" fill="#2e2e2e">KLF1<tspan font-size="3.42" dy="-2.2">+/−</tspan></text>
<line x1="390.3" y1="142.8" x2="390.3" y2="205.7" stroke="#262626" stroke-width="1"/>
<line x1="388.3" y1="145.2" x2="390.3" y2="145.2" stroke="#262626" stroke-width="1"/>
<text x="384.6" y="147.5" font-size="6.4" text-anchor="end" fill="#2e2e2e">2.0</text>
<line x1="388.3" y1="160.2" x2="390.3" y2="160.2" stroke="#262626" stroke-width="1"/>
<text x="384.6" y="162.5" font-size="6.4" text-anchor="end" fill="#2e2e2e">1.5</text>
<line x1="388.3" y1="175.2" x2="390.3" y2="175.2" stroke="#262626" stroke-width="1"/>
<text x="384.6" y="177.5" font-size="6.4" text-anchor="end" fill="#2e2e2e">1.0</text>
<line x1="388.3" y1="190.2" x2="390.3" y2="190.2" stroke="#262626" stroke-width="1"/>
<text x="384.6" y="192.5" font-size="6.4" text-anchor="end" fill="#2e2e2e">0.5</text>
<line x1="388.3" y1="205.2" x2="390.3" y2="205.2" stroke="#262626" stroke-width="1"/>
<text x="384.6" y="207.5" font-size="6.4" text-anchor="end" fill="#2e2e2e">0.0</text>
<line x1="389.1" y1="197.7" x2="390.3" y2="197.7" stroke="#262626" stroke-width="0.8"/>
<line x1="389.1" y1="182.7" x2="390.3" y2="182.7" stroke="#262626" stroke-width="0.8"/>
<line x1="389.1" y1="167.7" x2="390.3" y2="167.7" stroke="#262626" stroke-width="0.8"/>
<line x1="389.1" y1="152.7" x2="390.3" y2="152.7" stroke="#262626" stroke-width="0.8"/>
<text transform="translate(361.6 193.5) rotate(-90)" font-size="7" textLength="39.9" lengthAdjust="spacingAndGlyphs" fill="#2e2e2e">mtDNA/gDNA</text>
<text transform="translate(370 201.3) rotate(-90)" font-size="7" textLength="53.5" lengthAdjust="spacingAndGlyphs" fill="#2e2e2e">(Fold change vs WT)</text>
<rect x="394.7" y="175.8" width="7.7" height="29.4" fill="#c8102e"/>
<line x1="409.95" y1="162.6" x2="409.95" y2="155.7" stroke="#262626" stroke-width="0.8"/>
<line x1="408.25" y1="155.7" x2="411.65" y2="155.7" stroke="#262626" stroke-width="0.9"/>
<rect x="406.1" y="162.6" width="7.7" height="42.6" fill="#104e8b"/>
<circle cx="410" cy="152" r="0.85" fill="#2a2a2a"/>
<line x1="421.25" y1="174.9" x2="421.25" y2="166.2" stroke="#8a5a50" stroke-width="0.8"/>
<line x1="419.55" y1="166.2" x2="422.95" y2="166.2" stroke="#8a5a50" stroke-width="0.9"/>
<rect x="417.4" y="174.9" width="7.7" height="30.3" fill="#de887e"/>
<line x1="388.5" y1="205.2" x2="430.1" y2="205.2" stroke="#262626" stroke-width="1"/>
<line x1="398.6" y1="205.2" x2="398.6" y2="207.4" stroke="#262626" stroke-width="1"/>
<line x1="410" y1="205.2" x2="410" y2="207.4" stroke="#262626" stroke-width="1"/>
<line x1="421.3" y1="205.2" x2="421.3" y2="207.4" stroke="#262626" stroke-width="1"/>
<text transform="translate(398.2 214.5) rotate(-45)" font-size="6.2" text-anchor="end" fill="#2e2e2e">WT</text>
<text transform="translate(409.4 214.3) rotate(-45)" font-size="5.7" text-anchor="end" fill="#2e2e2e">KLF1<tspan font-size="3.42" dy="-2.2">+/E325K</tspan></text>
<text transform="translate(420.8 214.3) rotate(-45)" font-size="5.7" text-anchor="end" fill="#2e2e2e">KLF1<tspan font-size="3.42" dy="-2.2">+/−</tspan></text>
<line x1="467.1" y1="142.1" x2="467.1" y2="206" stroke="#262626" stroke-width="1"/>
<line x1="465.1" y1="144.5" x2="467.1" y2="144.5" stroke="#262626" stroke-width="1"/>
<text x="461.4" y="146.8" font-size="6.4" text-anchor="end" fill="#2e2e2e">200</text>
<line x1="465.1" y1="159.75" x2="467.1" y2="159.75" stroke="#262626" stroke-width="1"/>
<text x="461.4" y="162.05" font-size="6.4" text-anchor="end" fill="#2e2e2e">150</text>
<line x1="465.1" y1="175" x2="467.1" y2="175" stroke="#262626" stroke-width="1"/>
<text x="461.4" y="177.3" font-size="6.4" text-anchor="end" fill="#2e2e2e">100</text>
<line x1="465.1" y1="190.25" x2="467.1" y2="190.25" stroke="#262626" stroke-width="1"/>
<text x="461.4" y="192.55" font-size="6.4" text-anchor="end" fill="#2e2e2e">50</text>
<line x1="465.1" y1="205.5" x2="467.1" y2="205.5" stroke="#262626" stroke-width="1"/>
<text x="461.4" y="207.8" font-size="6.4" text-anchor="end" fill="#2e2e2e">0</text>
<line x1="465.9" y1="197.88" x2="467.1" y2="197.88" stroke="#262626" stroke-width="0.8"/>
<line x1="465.9" y1="182.62" x2="467.1" y2="182.62" stroke="#262626" stroke-width="0.8"/>
<line x1="465.9" y1="167.38" x2="467.1" y2="167.38" stroke="#262626" stroke-width="0.8"/>
<line x1="465.9" y1="152.12" x2="467.1" y2="152.12" stroke="#262626" stroke-width="0.8"/>
<text transform="translate(444.7 200.9) rotate(-90)" font-size="7" textLength="55" lengthAdjust="spacingAndGlyphs" fill="#2e2e2e">Abundance (scaled)</text>
<text x="479.5" y="137.5" font-size="5.6" text-anchor="middle" textLength="16.6" lengthAdjust="spacingAndGlyphs" fill="#2e2e2e">Citrate</text>
<text x="503.1" y="137.5" font-size="5.6" text-anchor="middle" textLength="20.2" lengthAdjust="spacingAndGlyphs" fill="#2e2e2e">synthase</text>
<line x1="490.4" y1="141.9" x2="490.4" y2="205.5" stroke="#3a3a3a" stroke-width="0.8" stroke-dasharray="0.8 1.1"/>
<line x1="475.15" y1="175.91" x2="475.15" y2="174.9" stroke="#262626" stroke-width="0.8"/>
<line x1="473.45" y1="174.9" x2="476.85" y2="174.9" stroke="#262626" stroke-width="0.9"/>
<rect x="472.6" y="175.91" width="5.1" height="29.59" fill="#c8102e"/>
<line x1="483.95" y1="176.53" x2="483.95" y2="174.6" stroke="#262626" stroke-width="0.8"/>
<line x1="482.25" y1="174.6" x2="485.65" y2="174.6" stroke="#262626" stroke-width="0.9"/>
<rect x="481.4" y="176.53" width="5.1" height="28.97" fill="#104e8b"/>
<line x1="496.75" y1="172.56" x2="496.75" y2="171.1" stroke="#262626" stroke-width="0.8"/>
<line x1="495.05" y1="171.1" x2="498.45" y2="171.1" stroke="#262626" stroke-width="0.9"/>
<rect x="494.2" y="172.56" width="5.1" height="32.94" fill="#c8102e"/>
<line x1="505.75" y1="164.63" x2="505.75" y2="162.6" stroke="#262626" stroke-width="0.8"/>
<line x1="504.05" y1="162.6" x2="507.45" y2="162.6" stroke="#262626" stroke-width="0.9"/>
<rect x="503.2" y="164.63" width="5.1" height="40.87" fill="#104e8b"/>
<circle cx="503.2" cy="159.4" r="0.85" fill="#2a2a2a"/>
<circle cx="505.8" cy="159.4" r="0.85" fill="#2a2a2a"/>
<circle cx="508.4" cy="159.4" r="0.85" fill="#2a2a2a"/>
<line x1="464.8" y1="205.5" x2="513.5" y2="205.5" stroke="#262626" stroke-width="1"/>
<line x1="478.8" y1="205.5" x2="478.8" y2="207.9" stroke="#262626" stroke-width="1"/>
<line x1="500.9" y1="205.5" x2="500.9" y2="207.9" stroke="#262626" stroke-width="1"/>
<text x="478.8" y="216.5" font-size="5.6" text-anchor="middle" fill="#2e2e2e">0</text>
<text x="500.9" y="216.5" font-size="5.6" text-anchor="middle" fill="#2e2e2e">2</text>
<text x="490.3" y="227.6" font-size="7.8" text-anchor="middle" textLength="17.7" lengthAdjust="spacingAndGlyphs" fill="#2e2e2e">Day of</text>
<text x="490.4" y="238" font-size="7.8" text-anchor="middle" textLength="39.2" lengthAdjust="spacingAndGlyphs" fill="#2e2e2e">differentiation</text>
<rect x="306.1" y="241.4" width="6" height="6" fill="#c8102e"/>
<text x="315.2" y="246.7" font-size="6" textLength="8.9" lengthAdjust="spacingAndGlyphs" fill="#2e2e2e">WT</text>
<rect x="333.6" y="241.4" width="6" height="6" fill="#104e8b"/>
<text x="342.5" y="246.7" font-size="6.4" fill="#2e2e2e" textLength="12.3" lengthAdjust="spacingAndGlyphs">KLF1</text>
<text x="355.9" y="243.6" font-size="3.5" fill="#2e2e2e" textLength="10.6" lengthAdjust="spacingAndGlyphs">+/E325K</text>
<rect x="379.8" y="241.4" width="6" height="6" fill="#de887e"/>
<text x="388.4" y="246.7" font-size="6.2" fill="#2e2e2e" textLength="12.7" lengthAdjust="spacingAndGlyphs">KLF1</text>
<text x="402.2" y="243.2" font-size="3.8" fill="#2e2e2e" textLength="5.4" lengthAdjust="spacingAndGlyphs">+/−</text>
<text x="317.2" y="278.6" font-size="11.5" font-weight="bold" fill="#111">G</text>
<line x1="354.9" y1="284" x2="354.9" y2="346.9" stroke="#262626" stroke-width="1"/>
<line x1="352.9" y1="286.4" x2="354.9" y2="286.4" stroke="#262626" stroke-width="1"/>
<text x="349.2" y="288.7" font-size="6.4" text-anchor="end" fill="#2e2e2e">200</text>
<line x1="352.9" y1="301.4" x2="354.9" y2="301.4" stroke="#262626" stroke-width="1"/>
<text x="349.2" y="303.7" font-size="6.4" text-anchor="end" fill="#2e2e2e">150</text>
<line x1="352.9" y1="316.4" x2="354.9" y2="316.4" stroke="#262626" stroke-width="1"/>
<text x="349.2" y="318.7" font-size="6.4" text-anchor="end" fill="#2e2e2e">100</text>
<line x1="352.9" y1="331.4" x2="354.9" y2="331.4" stroke="#262626" stroke-width="1"/>
<text x="349.2" y="333.7" font-size="6.4" text-anchor="end" fill="#2e2e2e">50</text>
<line x1="352.9" y1="346.4" x2="354.9" y2="346.4" stroke="#262626" stroke-width="1"/>
<text x="349.2" y="348.7" font-size="6.4" text-anchor="end" fill="#2e2e2e">0</text>
<line x1="353.7" y1="338.9" x2="354.9" y2="338.9" stroke="#262626" stroke-width="0.8"/>
<line x1="353.7" y1="323.9" x2="354.9" y2="323.9" stroke="#262626" stroke-width="0.8"/>
<line x1="353.7" y1="308.9" x2="354.9" y2="308.9" stroke="#262626" stroke-width="0.8"/>
<line x1="353.7" y1="293.9" x2="354.9" y2="293.9" stroke="#262626" stroke-width="0.8"/>
<text transform="translate(333.3 341.9) rotate(-90)" font-size="7.2" textLength="55.2" lengthAdjust="spacingAndGlyphs" fill="#2e2e2e">Abundance (scaled)</text>
<text x="371.3" y="278.4" font-size="5.8" text-anchor="middle" textLength="15.1" lengthAdjust="spacingAndGlyphs" fill="#2e2e2e">PHB2</text>
<path d="M357.9 346.4V320.8Q357.9 319.4 359.3 319.4H360.6Q362 319.4 362 320.8V346.4Z" fill="#c8102e"/>
<path d="M364.1 346.4V317.8Q364.1 316.4 365.5 316.4H366.8Q368.2 316.4 368.2 317.8V346.4Z" fill="#104e8b"/>
<circle cx="363.55" cy="313.5" r="0.85" fill="#2a2a2a"/>
<circle cx="366.15" cy="313.5" r="0.85" fill="#2a2a2a"/>
<circle cx="368.75" cy="313.5" r="0.85" fill="#2a2a2a"/>
<path d="M371.9 346.4V318.1Q371.9 316.7 373.3 316.7H374.6Q376 316.7 376 318.1V346.4Z" fill="#c8102e"/>
<path d="M378.3 346.4V306.7Q378.3 305.3 379.7 305.3H381Q382.4 305.3 382.4 306.7V346.4Z" fill="#104e8b"/>
<circle cx="377.75" cy="302.4" r="0.85" fill="#2a2a2a"/>
<circle cx="380.35" cy="302.4" r="0.85" fill="#2a2a2a"/>
<circle cx="382.95" cy="302.4" r="0.85" fill="#2a2a2a"/>
<line x1="352.1" y1="346.4" x2="387.9" y2="346.4" stroke="#262626" stroke-width="1"/>
<line x1="362.8" y1="346.4" x2="362.8" y2="348.8" stroke="#262626" stroke-width="1"/>
<line x1="377.1" y1="346.4" x2="377.1" y2="348.8" stroke="#262626" stroke-width="1"/>
<text x="362.8" y="358.4" font-size="6" text-anchor="middle" fill="#2e2e2e">0</text>
<text x="377.1" y="358.4" font-size="6" text-anchor="middle" fill="#2e2e2e">2</text>
<text x="371.2" y="369.2" font-size="7.8" text-anchor="middle" textLength="17" lengthAdjust="spacingAndGlyphs" fill="#2e2e2e">Day of</text>
<text x="371" y="378.8" font-size="7.8" text-anchor="middle" textLength="39.5" lengthAdjust="spacingAndGlyphs" fill="#2e2e2e">differentiation</text>
<text x="406.4" y="278.6" font-size="11.5" font-weight="bold" fill="#111">H</text>
<line x1="443.6" y1="283.6" x2="443.6" y2="346.8" stroke="#262626" stroke-width="1"/>
<line x1="441.6" y1="286" x2="443.6" y2="286" stroke="#262626" stroke-width="1"/>
<text x="437.9" y="288.3" font-size="6.4" text-anchor="end" fill="#2e2e2e">150</text>
<line x1="441.6" y1="306.1" x2="443.6" y2="306.1" stroke="#262626" stroke-width="1"/>
<text x="437.9" y="308.4" font-size="6.4" text-anchor="end" fill="#2e2e2e">100</text>
<line x1="441.6" y1="326.2" x2="443.6" y2="326.2" stroke="#262626" stroke-width="1"/>
<text x="437.9" y="328.5" font-size="6.4" text-anchor="end" fill="#2e2e2e">50</text>
<line x1="441.6" y1="346.3" x2="443.6" y2="346.3" stroke="#262626" stroke-width="1"/>
<text x="437.9" y="348.6" font-size="6.4" text-anchor="end" fill="#2e2e2e">0</text>
<line x1="442.4" y1="336.25" x2="443.6" y2="336.25" stroke="#262626" stroke-width="0.8"/>
<line x1="442.4" y1="316.15" x2="443.6" y2="316.15" stroke="#262626" stroke-width="0.8"/>
<line x1="442.4" y1="296.05" x2="443.6" y2="296.05" stroke="#262626" stroke-width="0.8"/>
<text transform="translate(421.6 342.4) rotate(-90)" font-size="7.2" textLength="55" lengthAdjust="spacingAndGlyphs" fill="#2e2e2e">Abundance (scaled)</text>
<text x="459.8" y="278.6" font-size="5.8" text-anchor="middle" textLength="15.2" lengthAdjust="spacingAndGlyphs" fill="#2e2e2e">PTEN</text>
<line x1="448.85" y1="309.32" x2="448.85" y2="307.2" stroke="#262626" stroke-width="0.8"/>
<line x1="447.15" y1="307.2" x2="450.55" y2="307.2" stroke="#262626" stroke-width="0.9"/>
<rect x="446.6" y="309.32" width="4.5" height="36.98" fill="#c8102e"/>
<line x1="455.15" y1="305.5" x2="455.15" y2="301.5" stroke="#262626" stroke-width="0.8"/>
<line x1="453.45" y1="301.5" x2="456.85" y2="301.5" stroke="#262626" stroke-width="0.9"/>
<rect x="452.9" y="305.5" width="4.5" height="40.8" fill="#104e8b"/>
<line x1="463.25" y1="304.09" x2="463.25" y2="301.1" stroke="#262626" stroke-width="0.8"/>
<line x1="461.55" y1="301.1" x2="464.95" y2="301.1" stroke="#262626" stroke-width="0.9"/>
<rect x="461" y="304.09" width="4.5" height="42.21" fill="#c8102e"/>
<line x1="469.75" y1="321.78" x2="469.75" y2="317.5" stroke="#262626" stroke-width="0.8"/>
<line x1="468.05" y1="317.5" x2="471.45" y2="317.5" stroke="#262626" stroke-width="0.9"/>
<rect x="467.5" y="321.78" width="4.5" height="24.52" fill="#104e8b"/>
<circle cx="467.2" cy="314.2" r="0.85" fill="#2a2a2a"/>
<circle cx="469.8" cy="314.2" r="0.85" fill="#2a2a2a"/>
<circle cx="472.4" cy="314.2" r="0.85" fill="#2a2a2a"/>
<line x1="441.6" y1="346.3" x2="475.6" y2="346.3" stroke="#262626" stroke-width="1"/>
<line x1="451.8" y1="346.3" x2="451.8" y2="348.7" stroke="#262626" stroke-width="1"/>
<line x1="466.2" y1="346.3" x2="466.2" y2="348.7" stroke="#262626" stroke-width="1"/>
<text x="451.8" y="358.1" font-size="6" text-anchor="middle" fill="#2e2e2e">0</text>
<text x="466.2" y="358.1" font-size="6" text-anchor="middle" fill="#2e2e2e">2</text>
<text x="459.8" y="369" font-size="7.8" text-anchor="middle" textLength="17" lengthAdjust="spacingAndGlyphs" fill="#2e2e2e">Day of</text>
<text x="459.9" y="378.9" font-size="7.8" text-anchor="middle" textLength="39.7" lengthAdjust="spacingAndGlyphs" fill="#2e2e2e">differentiation</text>
<rect x="0.5" y="0.5" width="519" height="513" fill="none" stroke="#575757" stroke-width="1"/></svg>
</body></html>
